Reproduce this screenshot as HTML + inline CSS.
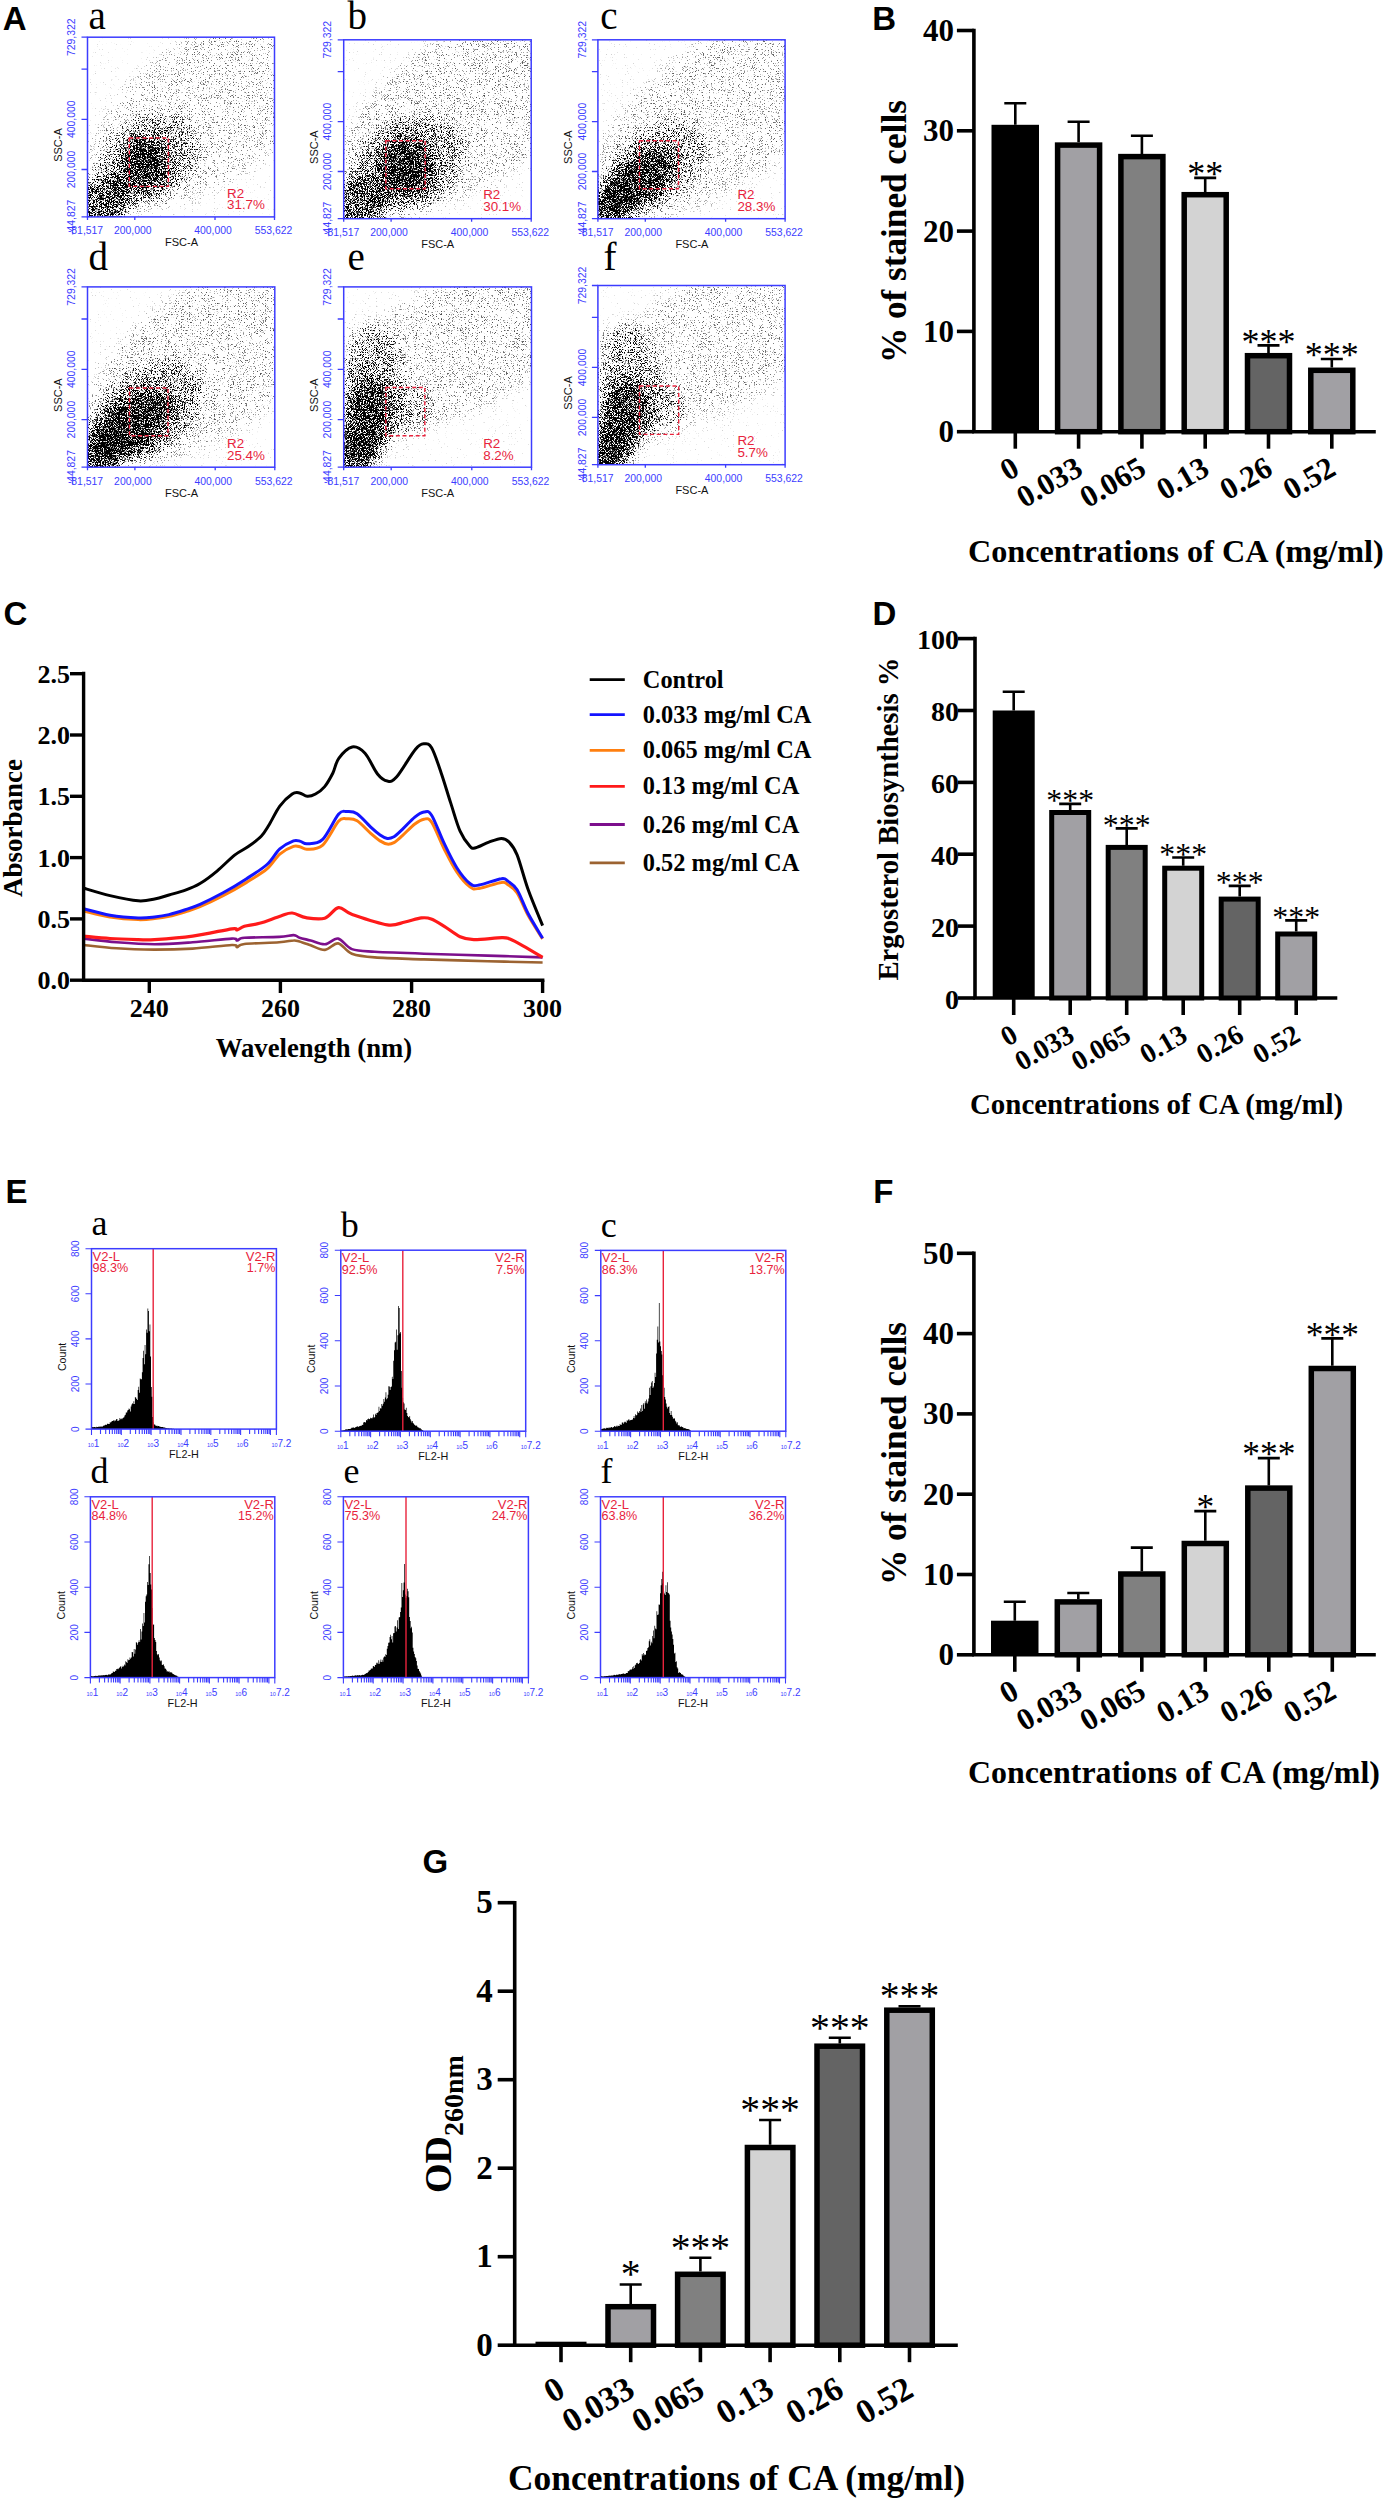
<!DOCTYPE html>
<html><head><meta charset="utf-8"><style>
html,body{margin:0;padding:0;background:#fff;}
svg{display:block}
.S{font-family:"Liberation Serif",serif}
.A{font-family:"Liberation Sans",sans-serif}
</style></head><body>
<svg width="1386" height="2500" viewBox="0 0 1386 2500">
<defs><filter id="spk" filterUnits="userSpaceOnUse" x="0" y="0" width="800" height="480" color-interpolation-filters="sRGB">
<feGaussianBlur in="SourceGraphic" stdDeviation="7" result="d"/>
<feTurbulence type="fractalNoise" baseFrequency="1.37" numOctaves="1" seed="11"/>
<feColorMatrix type="matrix" values="0 0 0 0 0 0 0 0 0 0 0 0 0 0 0 1 0 0 0 0"/>
<feComponentTransfer result="u"><feFuncA type="table" tableValues="0.000 0.000 0.000 0.000 0.003 0.014 0.047 0.110 0.208 0.332 0.491 0.672 0.803 0.889 0.951 0.984 0.997 0.999 1.000 1.000 1.000"/></feComponentTransfer>
<feComposite in="d" in2="u" operator="arithmetic" k1="0" k2="1" k3="-1" k4="0.45"/>
<feComponentTransfer><feFuncR type="linear" slope="0" intercept="0"/><feFuncG type="linear" slope="0" intercept="0"/><feFuncB type="linear" slope="0" intercept="0"/><feFuncA type="linear" slope="3.5" intercept="-1.575"/></feComponentTransfer>
</filter></defs>
<text class="A" x="872.2" y="30" font-size="33" font-weight="bold" text-anchor="start" fill="#000">B</text>
<path d="M1015.3 124.8V103.2M1004.3 103.2H1026.3" stroke="#000" stroke-width="2.6" fill="none"/>
<rect x="991.5" y="124.8" width="47.5" height="306.9" fill="#000"/>
<path d="M1078.6 142.3V121.8M1067.6 121.8H1089.6" stroke="#000" stroke-width="2.6" fill="none"/>
<rect x="1057.6" y="145.1" width="42" height="286.6" fill="#a1a0a4" stroke="#000" stroke-width="5.5"/>
<path d="M1141.9 153.9V135.8M1130.9 135.8H1152.9" stroke="#000" stroke-width="2.6" fill="none"/>
<rect x="1120.9" y="156.6" width="42" height="275.1" fill="#808080" stroke="#000" stroke-width="5.5"/>
<path d="M1205.2 192V177.9M1194.2 177.9H1216.2" stroke="#000" stroke-width="2.6" fill="none"/>
<rect x="1184.2" y="194.7" width="42" height="237" fill="#d3d3d3" stroke="#000" stroke-width="5.5"/>
<text class="S" x="1205.2" y="186.3" font-size="36" text-anchor="middle" fill="#000">**</text>
<path d="M1268.5 353V345.4M1257.5 345.4H1279.5" stroke="#000" stroke-width="2.6" fill="none"/>
<rect x="1247.5" y="355.7" width="42" height="76" fill="#646464" stroke="#000" stroke-width="5.5"/>
<text class="S" x="1268.5" y="353.8" font-size="36" text-anchor="middle" fill="#000">***</text>
<path d="M1331.8 367.5V359M1320.8 359H1342.8" stroke="#000" stroke-width="2.6" fill="none"/>
<rect x="1310.8" y="370.3" width="42" height="61.4" fill="#a1a0a4" stroke="#000" stroke-width="5.5"/>
<text class="S" x="1331.8" y="367.4" font-size="36" text-anchor="middle" fill="#000">***</text>
<path d="M973.9 30.5V431.7H1374" stroke="#000" stroke-width="3.6" fill="none" stroke-linecap="square"/>
<path d="M956.9 431.7H973.9" stroke="#000" stroke-width="3.6"/>
<text class="S" x="953.9" y="442.2" font-size="31" font-weight="bold" text-anchor="end" fill="#000">0</text>
<path d="M956.9 331.4H973.9" stroke="#000" stroke-width="3.6"/>
<text class="S" x="953.9" y="341.9" font-size="31" font-weight="bold" text-anchor="end" fill="#000">10</text>
<path d="M956.9 231.1H973.9" stroke="#000" stroke-width="3.6"/>
<text class="S" x="953.9" y="241.6" font-size="31" font-weight="bold" text-anchor="end" fill="#000">20</text>
<path d="M956.9 130.8H973.9" stroke="#000" stroke-width="3.6"/>
<text class="S" x="953.9" y="141.3" font-size="31" font-weight="bold" text-anchor="end" fill="#000">30</text>
<path d="M956.9 30.5H973.9" stroke="#000" stroke-width="3.6"/>
<text class="S" x="953.9" y="41" font-size="31" font-weight="bold" text-anchor="end" fill="#000">40</text>
<path d="M1015.3 431.7V448.7" stroke="#000" stroke-width="3.6"/>
<text class="S" x="1021.3" y="473.7" font-size="31" font-weight="bold" text-anchor="end" fill="#000" transform="rotate(-30 1021.3 473.7)">0</text>
<path d="M1078.6 431.7V448.7" stroke="#000" stroke-width="3.6"/>
<text class="S" x="1084.6" y="473.7" font-size="31" font-weight="bold" text-anchor="end" fill="#000" transform="rotate(-30 1084.6 473.7)">0.033</text>
<path d="M1141.9 431.7V448.7" stroke="#000" stroke-width="3.6"/>
<text class="S" x="1147.9" y="473.7" font-size="31" font-weight="bold" text-anchor="end" fill="#000" transform="rotate(-30 1147.9 473.7)">0.065</text>
<path d="M1205.2 431.7V448.7" stroke="#000" stroke-width="3.6"/>
<text class="S" x="1211.2" y="473.7" font-size="31" font-weight="bold" text-anchor="end" fill="#000" transform="rotate(-30 1211.2 473.7)">0.13</text>
<path d="M1268.5 431.7V448.7" stroke="#000" stroke-width="3.6"/>
<text class="S" x="1274.5" y="473.7" font-size="31" font-weight="bold" text-anchor="end" fill="#000" transform="rotate(-30 1274.5 473.7)">0.26</text>
<path d="M1331.8 431.7V448.7" stroke="#000" stroke-width="3.6"/>
<text class="S" x="1337.8" y="473.7" font-size="31" font-weight="bold" text-anchor="end" fill="#000" transform="rotate(-30 1337.8 473.7)">0.52</text>
<text class="S" x="906.4" y="231.6" font-size="35.2" font-weight="bold" text-anchor="middle" fill="#000" transform="rotate(-90 906.4 231.6)">% of stained cells</text>
<text class="S" x="968" y="561.7" font-size="32.2" font-weight="bold" text-anchor="start" fill="#000">Concentrations of CA (mg/ml)</text>
<text class="A" x="872.6" y="624.8" font-size="33" font-weight="bold" text-anchor="start" fill="#000">D</text>
<path d="M1013.7 710.5V691.8M1002.7 691.8H1024.7" stroke="#000" stroke-width="2.6" fill="none"/>
<rect x="992.7" y="710.5" width="42" height="287.5" fill="#000"/>
<path d="M1070.2 810V803.9M1059.2 803.9H1081.2" stroke="#000" stroke-width="2.6" fill="none"/>
<rect x="1051.7" y="812.5" width="37" height="185.5" fill="#a1a0a4" stroke="#000" stroke-width="5"/>
<text class="S" x="1070.2" y="811.1" font-size="31.8" text-anchor="middle" fill="#000">***</text>
<path d="M1126.7 844.9V828.4M1115.7 828.4H1137.7" stroke="#000" stroke-width="2.6" fill="none"/>
<rect x="1108.2" y="847.4" width="37" height="150.6" fill="#808080" stroke="#000" stroke-width="5"/>
<text class="S" x="1126.7" y="835.6" font-size="31.8" text-anchor="middle" fill="#000">***</text>
<path d="M1183.2 865.7V857.5M1172.2 857.5H1194.2" stroke="#000" stroke-width="2.6" fill="none"/>
<rect x="1164.7" y="868.2" width="37" height="129.8" fill="#d3d3d3" stroke="#000" stroke-width="5"/>
<text class="S" x="1183.2" y="864.7" font-size="31.8" text-anchor="middle" fill="#000">***</text>
<path d="M1239.7 896.6V885.9M1228.7 885.9H1250.7" stroke="#000" stroke-width="2.6" fill="none"/>
<rect x="1221.2" y="899.1" width="37" height="98.9" fill="#646464" stroke="#000" stroke-width="5"/>
<text class="S" x="1239.7" y="893.1" font-size="31.8" text-anchor="middle" fill="#000">***</text>
<path d="M1296.2 931.5V920.4M1285.2 920.4H1307.2" stroke="#000" stroke-width="2.6" fill="none"/>
<rect x="1277.7" y="934" width="37" height="64" fill="#a1a0a4" stroke="#000" stroke-width="5"/>
<text class="S" x="1296.2" y="927.6" font-size="31.8" text-anchor="middle" fill="#000">***</text>
<path d="M975 638.6V998H1335.5" stroke="#000" stroke-width="3.6" fill="none" stroke-linecap="square"/>
<path d="M958 998H975" stroke="#000" stroke-width="3.6"/>
<text class="S" x="959" y="1008.5" font-size="28" font-weight="bold" text-anchor="end" fill="#000">0</text>
<path d="M958 926.1H975" stroke="#000" stroke-width="3.6"/>
<text class="S" x="959" y="936.6" font-size="28" font-weight="bold" text-anchor="end" fill="#000">20</text>
<path d="M958 854.2H975" stroke="#000" stroke-width="3.6"/>
<text class="S" x="959" y="864.7" font-size="28" font-weight="bold" text-anchor="end" fill="#000">40</text>
<path d="M958 782.4H975" stroke="#000" stroke-width="3.6"/>
<text class="S" x="959" y="792.9" font-size="28" font-weight="bold" text-anchor="end" fill="#000">60</text>
<path d="M958 710.5H975" stroke="#000" stroke-width="3.6"/>
<text class="S" x="959" y="721" font-size="28" font-weight="bold" text-anchor="end" fill="#000">80</text>
<path d="M958 638.6H975" stroke="#000" stroke-width="3.6"/>
<text class="S" x="959" y="649.1" font-size="28" font-weight="bold" text-anchor="end" fill="#000">100</text>
<path d="M1013.7 998V1015" stroke="#000" stroke-width="3.6"/>
<text class="S" x="1019.7" y="1040" font-size="28" font-weight="bold" text-anchor="end" fill="#000" transform="rotate(-30 1019.7 1040)">0</text>
<path d="M1070.2 998V1015" stroke="#000" stroke-width="3.6"/>
<text class="S" x="1076.2" y="1040" font-size="28" font-weight="bold" text-anchor="end" fill="#000" transform="rotate(-30 1076.2 1040)">0.033</text>
<path d="M1126.7 998V1015" stroke="#000" stroke-width="3.6"/>
<text class="S" x="1132.7" y="1040" font-size="28" font-weight="bold" text-anchor="end" fill="#000" transform="rotate(-30 1132.7 1040)">0.065</text>
<path d="M1183.2 998V1015" stroke="#000" stroke-width="3.6"/>
<text class="S" x="1189.2" y="1040" font-size="28" font-weight="bold" text-anchor="end" fill="#000" transform="rotate(-30 1189.2 1040)">0.13</text>
<path d="M1239.7 998V1015" stroke="#000" stroke-width="3.6"/>
<text class="S" x="1245.7" y="1040" font-size="28" font-weight="bold" text-anchor="end" fill="#000" transform="rotate(-30 1245.7 1040)">0.26</text>
<path d="M1296.2 998V1015" stroke="#000" stroke-width="3.6"/>
<text class="S" x="1302.2" y="1040" font-size="28" font-weight="bold" text-anchor="end" fill="#000" transform="rotate(-30 1302.2 1040)">0.52</text>
<text class="S" x="898" y="819" font-size="28.7" font-weight="bold" text-anchor="middle" fill="#000" transform="rotate(-90 898 819)">Ergosterol Biosynthesis %</text>
<text class="S" x="970" y="1113.7" font-size="28.9" font-weight="bold" text-anchor="start" fill="#000">Concentrations of CA (mg/ml)</text>
<text class="A" x="873.2" y="1202.5" font-size="33" font-weight="bold" text-anchor="start" fill="#000">F</text>
<path d="M1014.8 1620.7V1601.8M1003.8 1601.8H1025.8" stroke="#000" stroke-width="2.6" fill="none"/>
<rect x="991" y="1620.7" width="47.5" height="34.1" fill="#000"/>
<path d="M1078.3 1599.2V1593M1067.3 1593H1089.3" stroke="#000" stroke-width="2.6" fill="none"/>
<rect x="1057.3" y="1601.9" width="42" height="52.9" fill="#a1a0a4" stroke="#000" stroke-width="5.5"/>
<path d="M1141.8 1571.3V1547.6M1130.8 1547.6H1152.8" stroke="#000" stroke-width="2.6" fill="none"/>
<rect x="1120.8" y="1574" width="42" height="80.8" fill="#808080" stroke="#000" stroke-width="5.5"/>
<path d="M1205.3 1540.8V1511.1M1194.3 1511.1H1216.3" stroke="#000" stroke-width="2.6" fill="none"/>
<rect x="1184.3" y="1543.5" width="42" height="111.3" fill="#d3d3d3" stroke="#000" stroke-width="5.5"/>
<text class="S" x="1205.3" y="1519.2" font-size="35.4" text-anchor="middle" fill="#000">*</text>
<path d="M1268.8 1485.4V1458.1M1257.8 1458.1H1279.8" stroke="#000" stroke-width="2.6" fill="none"/>
<rect x="1247.8" y="1488.1" width="42" height="166.7" fill="#646464" stroke="#000" stroke-width="5.5"/>
<text class="S" x="1268.8" y="1466.2" font-size="35.4" text-anchor="middle" fill="#000">***</text>
<path d="M1332.3 1365.7V1338.4M1321.3 1338.4H1343.3" stroke="#000" stroke-width="2.6" fill="none"/>
<rect x="1311.3" y="1368.5" width="42" height="286.3" fill="#a1a0a4" stroke="#000" stroke-width="5.5"/>
<text class="S" x="1332.3" y="1346.5" font-size="35.4" text-anchor="middle" fill="#000">***</text>
<path d="M973.9 1253.3V1654.8H1374" stroke="#000" stroke-width="3.6" fill="none" stroke-linecap="square"/>
<path d="M956.9 1654.8H973.9" stroke="#000" stroke-width="3.6"/>
<text class="S" x="953.9" y="1665.3" font-size="31" font-weight="bold" text-anchor="end" fill="#000">0</text>
<path d="M956.9 1574.5H973.9" stroke="#000" stroke-width="3.6"/>
<text class="S" x="953.9" y="1585" font-size="31" font-weight="bold" text-anchor="end" fill="#000">10</text>
<path d="M956.9 1494.2H973.9" stroke="#000" stroke-width="3.6"/>
<text class="S" x="953.9" y="1504.7" font-size="31" font-weight="bold" text-anchor="end" fill="#000">20</text>
<path d="M956.9 1413.9H973.9" stroke="#000" stroke-width="3.6"/>
<text class="S" x="953.9" y="1424.4" font-size="31" font-weight="bold" text-anchor="end" fill="#000">30</text>
<path d="M956.9 1333.6H973.9" stroke="#000" stroke-width="3.6"/>
<text class="S" x="953.9" y="1344.1" font-size="31" font-weight="bold" text-anchor="end" fill="#000">40</text>
<path d="M956.9 1253.3H973.9" stroke="#000" stroke-width="3.6"/>
<text class="S" x="953.9" y="1263.8" font-size="31" font-weight="bold" text-anchor="end" fill="#000">50</text>
<path d="M1014.8 1654.8V1671.8" stroke="#000" stroke-width="3.6"/>
<text class="S" x="1020.8" y="1696.8" font-size="31" font-weight="bold" text-anchor="end" fill="#000" transform="rotate(-30 1020.8 1696.8)">0</text>
<path d="M1078.3 1654.8V1671.8" stroke="#000" stroke-width="3.6"/>
<text class="S" x="1084.3" y="1696.8" font-size="31" font-weight="bold" text-anchor="end" fill="#000" transform="rotate(-30 1084.3 1696.8)">0.033</text>
<path d="M1141.8 1654.8V1671.8" stroke="#000" stroke-width="3.6"/>
<text class="S" x="1147.8" y="1696.8" font-size="31" font-weight="bold" text-anchor="end" fill="#000" transform="rotate(-30 1147.8 1696.8)">0.065</text>
<path d="M1205.3 1654.8V1671.8" stroke="#000" stroke-width="3.6"/>
<text class="S" x="1211.3" y="1696.8" font-size="31" font-weight="bold" text-anchor="end" fill="#000" transform="rotate(-30 1211.3 1696.8)">0.13</text>
<path d="M1268.8 1654.8V1671.8" stroke="#000" stroke-width="3.6"/>
<text class="S" x="1274.8" y="1696.8" font-size="31" font-weight="bold" text-anchor="end" fill="#000" transform="rotate(-30 1274.8 1696.8)">0.26</text>
<path d="M1332.3 1654.8V1671.8" stroke="#000" stroke-width="3.6"/>
<text class="S" x="1338.3" y="1696.8" font-size="31" font-weight="bold" text-anchor="end" fill="#000" transform="rotate(-30 1338.3 1696.8)">0.52</text>
<text class="S" x="906.4" y="1453.5" font-size="35.2" font-weight="bold" text-anchor="middle" fill="#000" transform="rotate(-90 906.4 1453.5)">% of stained cells</text>
<text class="S" x="968" y="1783" font-size="31.9" font-weight="bold" text-anchor="start" fill="#000">Concentrations of CA (mg/ml)</text>
<text class="A" x="422.5" y="1873" font-size="33" font-weight="bold" text-anchor="start" fill="#000">G</text>
<rect x="535.5" y="2341.7" width="51" height="3.5" fill="#000"/>
<path d="M630.7 2304V2284.5M619.7 2284.5H641.7" stroke="#000" stroke-width="2.6" fill="none"/>
<rect x="608" y="2306.7" width="45.5" height="38.5" fill="#a1a0a4" stroke="#000" stroke-width="5.5"/>
<text class="S" x="630.7" y="2287.3" font-size="39.7" text-anchor="middle" fill="#000">*</text>
<path d="M700.4 2271.6V2257.7M689.4 2257.7H711.4" stroke="#000" stroke-width="2.6" fill="none"/>
<rect x="677.6" y="2274.3" width="45.5" height="70.9" fill="#808080" stroke="#000" stroke-width="5.5"/>
<text class="S" x="700.4" y="2260.5" font-size="39.7" text-anchor="middle" fill="#000">***</text>
<path d="M770.1 2144.7V2120M759.1 2120H781.1" stroke="#000" stroke-width="2.6" fill="none"/>
<rect x="747.4" y="2147.5" width="45.5" height="197.7" fill="#d3d3d3" stroke="#000" stroke-width="5.5"/>
<text class="S" x="770.1" y="2122.8" font-size="39.7" text-anchor="middle" fill="#000">***</text>
<path d="M839.8 2043.4V2037.8M828.8 2037.8H850.8" stroke="#000" stroke-width="2.6" fill="none"/>
<rect x="817" y="2046.2" width="45.5" height="299" fill="#646464" stroke="#000" stroke-width="5.5"/>
<text class="S" x="839.8" y="2040.7" font-size="39.7" text-anchor="middle" fill="#000">***</text>
<path d="M909.5 2007.5V2006.2M898.5 2006.2H920.5" stroke="#000" stroke-width="2.6" fill="none"/>
<rect x="886.8" y="2010.2" width="45.5" height="335" fill="#a1a0a4" stroke="#000" stroke-width="5.5"/>
<text class="S" x="909.5" y="2009.1" font-size="39.7" text-anchor="middle" fill="#000">***</text>
<path d="M514.7 1902.7V2345.2H956" stroke="#000" stroke-width="3.6" fill="none" stroke-linecap="square"/>
<path d="M497.7 2345.2H514.7" stroke="#000" stroke-width="3.6"/>
<text class="S" x="492.7" y="2355.7" font-size="33" font-weight="bold" text-anchor="end" fill="#000">0</text>
<path d="M497.7 2256.7H514.7" stroke="#000" stroke-width="3.6"/>
<text class="S" x="492.7" y="2267.2" font-size="33" font-weight="bold" text-anchor="end" fill="#000">1</text>
<path d="M497.7 2168.2H514.7" stroke="#000" stroke-width="3.6"/>
<text class="S" x="492.7" y="2178.7" font-size="33" font-weight="bold" text-anchor="end" fill="#000">2</text>
<path d="M497.7 2079.7H514.7" stroke="#000" stroke-width="3.6"/>
<text class="S" x="492.7" y="2090.2" font-size="33" font-weight="bold" text-anchor="end" fill="#000">3</text>
<path d="M497.7 1991.2H514.7" stroke="#000" stroke-width="3.6"/>
<text class="S" x="492.7" y="2001.7" font-size="33" font-weight="bold" text-anchor="end" fill="#000">4</text>
<path d="M497.7 1902.7H514.7" stroke="#000" stroke-width="3.6"/>
<text class="S" x="492.7" y="1913.2" font-size="33" font-weight="bold" text-anchor="end" fill="#000">5</text>
<path d="M561 2345.2V2362.2" stroke="#000" stroke-width="3.6"/>
<text class="S" x="567" y="2395.2" font-size="34" font-weight="bold" text-anchor="end" fill="#000" transform="rotate(-30 567 2395.2)">0</text>
<path d="M630.7 2345.2V2362.2" stroke="#000" stroke-width="3.6"/>
<text class="S" x="636.7" y="2395.2" font-size="34" font-weight="bold" text-anchor="end" fill="#000" transform="rotate(-30 636.7 2395.2)">0.033</text>
<path d="M700.4 2345.2V2362.2" stroke="#000" stroke-width="3.6"/>
<text class="S" x="706.4" y="2395.2" font-size="34" font-weight="bold" text-anchor="end" fill="#000" transform="rotate(-30 706.4 2395.2)">0.065</text>
<path d="M770.1 2345.2V2362.2" stroke="#000" stroke-width="3.6"/>
<text class="S" x="776.1" y="2395.2" font-size="34" font-weight="bold" text-anchor="end" fill="#000" transform="rotate(-30 776.1 2395.2)">0.13</text>
<path d="M839.8 2345.2V2362.2" stroke="#000" stroke-width="3.6"/>
<text class="S" x="845.8" y="2395.2" font-size="34" font-weight="bold" text-anchor="end" fill="#000" transform="rotate(-30 845.8 2395.2)">0.26</text>
<path d="M909.5 2345.2V2362.2" stroke="#000" stroke-width="3.6"/>
<text class="S" x="915.5" y="2395.2" font-size="34" font-weight="bold" text-anchor="end" fill="#000" transform="rotate(-30 915.5 2395.2)">0.52</text>
<text class="S" x="451.4" y="2124" font-size="38" font-weight="bold" text-anchor="middle" fill="#000" transform="rotate(-90 451.4 2124)">OD<tspan font-size="28" dy="12">260nm</tspan></text>
<text class="S" x="508" y="2490" font-size="35.4" font-weight="bold" text-anchor="start" fill="#000">Concentrations of CA (mg/ml)</text>
<text class="A" x="3.6" y="624.5" font-size="33" font-weight="bold" text-anchor="start" fill="#000">C</text>
<path d="M83.8 945C89.3 945.6 104.8 947.6 116.6 948.3C128.4 949.1 141.9 949.5 154.6 949.6C167.3 949.6 179.7 949.3 192.6 948.6C205.5 947.8 224.5 945.3 231.9 945C239.4 944.8 235.1 947.3 237.2 947.1C239.3 946.9 237.4 944.8 244.4 944C251.4 943.2 270.9 942.9 279.1 942.3C287.3 941.7 290.2 940.6 293.6 940.5C296.9 940.3 296.6 940.7 299.5 941.5C302.3 942.3 306.3 943.8 310.6 945.3C314.9 946.7 320.4 950.2 325 949.9C329.6 949.6 333.7 942.8 338.1 943.4C342.6 944.1 345.8 951.4 351.9 953.7C358 956 362.8 956.5 374.8 957.4C386.9 958.3 405.2 958.7 424 959.4C442.8 960 467.8 960.7 487.6 961.2C507.4 961.7 533.5 962.3 542.6 962.5" stroke="#9c6331" stroke-width="2.6" fill="none" stroke-linejoin="round"/>
<path d="M83.8 938.6C89.3 939.2 104.8 941.3 116.6 942.2C128.4 943.1 141.9 944.1 154.6 944.2C167.3 944.2 179.7 943.2 192.6 942.3C205.5 941.4 224.5 938.9 231.9 938.6C239.4 938.3 235.1 940.6 237.2 940.5C239.3 940.3 237.4 938.4 244.4 937.8C251.4 937.2 270.9 937.4 279.1 936.9C287.3 936.5 290.2 935 293.6 935.1C296.9 935.2 296.6 936.8 299.5 937.7C302.3 938.6 306.3 939.4 310.6 940.5C314.9 941.6 320.4 944.6 325 944.3C329.6 944 333.7 937.8 338.1 938.6C342.6 939.4 345.8 946.9 351.9 949.1C358 951.2 362.8 951 374.8 951.8C386.9 952.5 405.2 953.1 424 953.7C442.8 954.4 467.8 954.9 487.6 955.6C507.4 956.2 533.5 957.1 542.6 957.4" stroke="#7c0f8c" stroke-width="2.6" fill="none" stroke-linejoin="round"/>
<path d="M83.8 936.1C88.2 936.5 101 937.9 110 938.5C119.1 939.1 130.8 939.4 138.2 939.6C145.6 939.8 145.5 940.2 154.6 939.6C163.7 939 179.7 937.9 192.6 936.1C205.5 934.3 224.5 929.9 231.9 928.8C239.4 927.8 235.1 930.4 237.2 929.9C239.3 929.5 240.7 927.4 244.4 926.3C248.1 925.2 253.4 925 259.5 923.3C265.5 921.6 275.3 917.7 280.8 916C286.2 914.2 288 912.7 292.2 913C296.5 913.3 300.6 916.8 306 917.7C311.4 918.5 319.3 919.8 324.7 918.2C330.1 916.5 333.9 908.3 338.5 907.6C343.1 907 344.1 911.5 352.2 914.4C360.4 917.2 378.5 923.5 387.3 924.8C396.1 926.1 399.3 923.1 405 922C410.7 920.8 417 918.4 421.4 917.9C425.8 917.4 427.4 917.5 431.2 918.9C435 920.3 439.5 923.3 444.3 926.3C449.1 929.2 455.1 934.4 460.1 936.7C465 938.9 466.8 939.5 473.8 939.6C480.8 939.8 496 937.7 502 937.7C508 937.6 506.4 937.8 509.9 939.1C513.4 940.5 517.5 942.8 523 945.9C528.4 948.9 539.4 955.5 542.6 957.4" stroke="#ff1a1a" stroke-width="3.2" fill="none" stroke-linejoin="round"/>
<path d="M83.8 911C88.2 912 101 915.6 110 917C119.1 918.4 130.8 919.3 138.2 919.6C145.6 919.8 149.5 919.2 154.6 918.6C159.7 918.1 163.9 917.6 169 916.4C174.1 915.3 180.2 913.4 185.4 911.8C190.6 910.1 193.7 909.3 200 906.7C206.3 904 215.4 899.7 223.1 895.7C230.8 891.7 238.8 887.1 246.2 882.6C253.5 878.1 261.4 873.6 267 868.9C272.6 864.1 275.4 857.8 279.8 854.1C284.2 850.4 290 847.6 293.5 846.4C296.9 845.3 298.2 846.6 300.5 847C302.8 847.5 303.7 849.5 307.3 849.2C311 849 317.2 850 322.4 845.4C327.6 840.7 334.5 825.8 338.5 821.3C342.6 816.9 343.6 818.9 346.7 818.8C349.8 818.7 353 818.2 357.1 820.7C361.3 823.3 367.7 830.9 371.6 834.2C375.4 837.6 377.5 839.2 380.1 840.9C382.7 842.5 385 843.8 387.3 844.1C389.6 844.4 391.3 844 393.9 842.6C396.4 841.2 398.9 838.7 402.4 835.6C405.9 832.5 411.2 826.7 414.8 824C418.4 821.3 421.2 819.5 424 819.2C426.8 818.9 428.2 817.1 431.6 822.1C435 827.1 440.1 840.9 444.3 849.2C448.5 857.5 452.5 865.6 456.8 871.9C461 878.2 466.2 884.1 469.9 886.9C473.6 889.6 473.8 889.2 479.1 888.4C484.3 887.7 496.5 883 501.4 882.4C506.2 881.7 505.3 882.9 507.9 884.7C510.5 886.4 513.7 887.8 517.1 892.9C520.5 898.1 524 907.9 528.2 915.6C532.5 923.3 540.2 935 542.6 938.9" stroke="#ff7f0f" stroke-width="3" fill="none" stroke-linejoin="round"/>
<path d="M83.8 908.8C88.2 909.9 101 913.7 110 915.2C119.1 916.7 130.8 917.6 138.2 917.9C145.6 918.2 149.5 917.5 154.6 916.9C159.7 916.4 163.9 915.8 169 914.6C174.1 913.4 180.2 911.4 185.4 909.7C190.6 908 193.7 907.1 200 904.3C206.3 901.5 215.4 897 223.1 892.8C230.8 888.6 238.8 883.7 246.2 878.9C253.5 874.2 261.4 869.5 267 864.5C272.6 859.5 275.4 852.8 279.8 848.9C284.2 845 290 842.1 293.5 840.8C296.9 839.6 298.2 840.9 300.5 841.4C302.8 841.9 303.7 844 307.3 843.7C311 843.5 317.2 844.6 322.4 839.7C327.6 834.8 334.5 819 338.5 814.3C342.6 809.6 343.6 811.7 346.7 811.6C349.8 811.5 353 811 357.1 813.7C361.3 816.4 367.7 824.4 371.6 827.9C375.4 831.5 377.5 833.2 380.1 834.9C382.7 836.7 385 838 387.3 838.4C389.6 838.7 391.3 838.2 393.9 836.8C396.4 835.3 398.9 832.7 402.4 829.4C405.9 826.1 411.2 820 414.8 817.1C418.4 814.3 421.2 812.4 424 812.1C426.8 811.8 428.2 809.9 431.6 815.2C435 820.5 440.1 835 444.3 843.7C448.5 852.5 452.5 861 456.8 867.7C461 874.3 466.2 880.6 469.9 883.5C473.6 886.4 473.8 885.9 479.1 885.1C484.3 884.3 496.5 879.3 501.4 878.7C506.2 878 505.3 879.3 507.9 881.1C510.5 883 513.7 884.4 517.1 889.8C520.5 895.3 524 905.7 528.2 913.8C532.5 921.8 540.2 934.2 542.6 938.3" stroke="#1414ff" stroke-width="3" fill="none" stroke-linejoin="round"/>
<path d="M83.8 888.2C88.2 889.5 101 893.5 110 895.6C119.1 897.7 130.8 900.2 138.2 900.8C145.6 901.3 149.5 900 154.6 899C159.7 898.1 163.9 896.5 169 895C174.1 893.5 180.2 892 185.4 890.1C190.6 888.2 194.7 886.7 200 883.5C205.3 880.3 211.6 875.6 217.3 870.8C223.1 866.1 229.4 859.2 234.6 855.1C239.7 851.1 243.9 849.7 248.3 846.6C252.8 843.4 257.7 839.9 261.2 836.3C264.7 832.6 266.2 829.5 269.3 824.5C272.4 819.5 276 811.2 279.8 806.1C283.6 801 289 796.2 292.2 794C295.5 791.8 296.9 792.5 299.5 792.9C302 793.3 304.6 796.1 307.3 796.3C310 796.5 312.6 795.6 315.5 794C318.4 792.4 321.8 790.1 324.7 786.6C327.6 783.1 330.5 777.7 332.9 773C335.2 768.3 335.6 762.6 338.8 758.3C342 754 347.9 747.9 352.2 747C356.6 746.2 360.8 748.8 365 753.3C369.2 757.8 373.7 769.3 377.5 774C381.2 778.6 384.1 780.6 387.3 781.1C390.5 781.6 391.8 782.3 396.5 777.1C401.2 771.8 410.8 754.9 415.5 749.3C420.1 743.8 421.7 744.1 424.4 743.8C427.1 743.6 428.8 743 431.6 747.8C434.4 752.5 437.9 763.3 441 772.4C444.2 781.5 447.4 792.8 450.6 802.6C453.8 812.3 456.8 823.8 460.1 831.1C463.3 838.4 467.3 843.4 469.9 846.2C472.5 849 472.6 848.5 475.8 847.8C479 847.1 484.6 843.7 488.9 842.2C493.2 840.6 498 838.4 501.4 838.4C504.7 838.4 506.6 839.4 509.2 842.2C511.8 844.9 513.9 847 517.1 854.9C520.3 862.9 524 878.1 528.2 889.8C532.5 901.6 540.2 919.7 542.6 925.6" stroke="#000" stroke-width="3" fill="none" stroke-linejoin="round"/>
<path d="M83.6 673.5V980.2H542.7" stroke="#000" stroke-width="3.4" fill="none" stroke-linecap="square"/>
<path d="M70 980.2H83.6" stroke="#000" stroke-width="3.4"/>
<text class="S" x="70" y="989.2" font-size="26" font-weight="bold" text-anchor="end" fill="#000">0.0</text>
<path d="M70 918.9H83.6" stroke="#000" stroke-width="3.4"/>
<text class="S" x="70" y="927.9" font-size="26" font-weight="bold" text-anchor="end" fill="#000">0.5</text>
<path d="M70 857.6H83.6" stroke="#000" stroke-width="3.4"/>
<text class="S" x="70" y="866.6" font-size="26" font-weight="bold" text-anchor="end" fill="#000">1.0</text>
<path d="M70 796.3H83.6" stroke="#000" stroke-width="3.4"/>
<text class="S" x="70" y="805.3" font-size="26" font-weight="bold" text-anchor="end" fill="#000">1.5</text>
<path d="M70 735H83.6" stroke="#000" stroke-width="3.4"/>
<text class="S" x="70" y="744" font-size="26" font-weight="bold" text-anchor="end" fill="#000">2.0</text>
<path d="M70 673.7H83.6" stroke="#000" stroke-width="3.4"/>
<text class="S" x="70" y="682.7" font-size="26" font-weight="bold" text-anchor="end" fill="#000">2.5</text>
<path d="M149.3 980.2V993" stroke="#000" stroke-width="3.4"/>
<text class="S" x="149.3" y="1017" font-size="26" font-weight="bold" text-anchor="middle" fill="#000">240</text>
<path d="M280.4 980.2V993" stroke="#000" stroke-width="3.4"/>
<text class="S" x="280.4" y="1017" font-size="26" font-weight="bold" text-anchor="middle" fill="#000">260</text>
<path d="M411.6 980.2V993" stroke="#000" stroke-width="3.4"/>
<text class="S" x="411.6" y="1017" font-size="26" font-weight="bold" text-anchor="middle" fill="#000">280</text>
<path d="M542.6 980.2V993" stroke="#000" stroke-width="3.4"/>
<text class="S" x="542.6" y="1017" font-size="26" font-weight="bold" text-anchor="middle" fill="#000">300</text>
<text class="S" x="314" y="1057" font-size="26.7" font-weight="bold" text-anchor="middle" fill="#000">Wavelength (nm)</text>
<text class="S" x="21.5" y="828" font-size="27" font-weight="bold" text-anchor="middle" fill="#000" transform="rotate(-90 21.5 828)">Absorbance</text>
<path d="M589.7 679.6H624.8" stroke="#000" stroke-width="2.8"/>
<text class="S" x="642.8" y="687.6" font-size="24.4" font-weight="bold" text-anchor="start" fill="#000">Control</text>
<path d="M589.7 714.7H624.8" stroke="#1414ff" stroke-width="2.8"/>
<text class="S" x="642.8" y="722.7" font-size="24.4" font-weight="bold" text-anchor="start" fill="#000">0.033 mg/ml CA</text>
<path d="M589.7 750.4H624.8" stroke="#ff7f0f" stroke-width="2.8"/>
<text class="S" x="642.8" y="758.4" font-size="24.4" font-weight="bold" text-anchor="start" fill="#000">0.065 mg/ml CA</text>
<path d="M589.7 786.4H624.8" stroke="#ff1a1a" stroke-width="2.8"/>
<text class="S" x="642.8" y="794.4" font-size="24.4" font-weight="bold" text-anchor="start" fill="#000">0.13 mg/ml CA</text>
<path d="M589.7 824.5H624.8" stroke="#7c0f8c" stroke-width="2.8"/>
<text class="S" x="642.8" y="832.5" font-size="24.4" font-weight="bold" text-anchor="start" fill="#000">0.26 mg/ml CA</text>
<path d="M589.7 862.9H624.8" stroke="#9c6331" stroke-width="2.8"/>
<text class="S" x="642.8" y="870.9" font-size="24.4" font-weight="bold" text-anchor="start" fill="#000">0.52 mg/ml CA</text>
<text class="A" x="2.7" y="30.3" font-size="33" font-weight="bold" text-anchor="start" fill="#000">A</text>
<clipPath id="sc0"><rect x="87.5" y="37.2" width="187" height="179.7"/></clipPath>
<g clip-path="url(#sc0)"><g filter="url(#spk)">
<rect x="77.5" y="27.2" width="207" height="199.7" fill-opacity="0.05"/>
<ellipse cx="209.5" cy="109.2" rx="140" ry="72" fill-opacity="0.16" transform="rotate(-35 209.5 109.2)"/>
<ellipse cx="149.5" cy="159.2" rx="52" ry="40" fill-opacity="0.3" transform="rotate(-30 149.5 159.2)"/>
<ellipse cx="145.5" cy="164.2" rx="23" ry="27" fill-opacity="0.8" transform="rotate(0 145.5 164.2)"/>
<ellipse cx="99.5" cy="205.2" rx="36" ry="26" fill-opacity="0.64" transform="rotate(-40 99.5 205.2)"/>
</g></g>
<rect x="129.3" y="138" width="39.1" height="48.4" fill="none" stroke="#e8233c" stroke-width="1.4" stroke-dasharray="4 2.6"/>
<rect x="87.5" y="37.2" width="187" height="179.7" fill="none" stroke="#3c3cff" stroke-width="1.5"/>
<path d="M81.5 69.2H87.5M81.5 119.3H87.5M81.5 169.5H87.5M81.5 216.9H87.5M81.5 37.2H87.5M87.5 216.9V219.9M134.8 216.9V219.9M215 216.9V219.9M274.5 216.9V219.9" stroke="#3c3cff" stroke-width="1.3"/>
<text class="A" x="71.5" y="37.2" font-size="10.4" fill="#3c3cff" text-anchor="middle" transform="rotate(-90 71.5 37.2)" dy="0.35em">729,322</text>
<text class="A" x="71.5" y="119.3" font-size="10.4" fill="#3c3cff" text-anchor="middle" transform="rotate(-90 71.5 119.3)" dy="0.35em">400,000</text>
<text class="A" x="71.5" y="169.5" font-size="10.4" fill="#3c3cff" text-anchor="middle" transform="rotate(-90 71.5 169.5)" dy="0.35em">200,000</text>
<text class="A" x="71.5" y="217.4" font-size="10.4" fill="#3c3cff" text-anchor="middle" transform="rotate(-90 71.5 217.4)" dy="0.35em">-44,827</text>
<text class="A" x="85.5" y="234.4" font-size="10.4" fill="#3c3cff" text-anchor="middle">-81,517</text>
<text class="A" x="132.8" y="234.4" font-size="10.4" fill="#3c3cff" text-anchor="middle">200,000</text>
<text class="A" x="213" y="234.4" font-size="10.4" fill="#3c3cff" text-anchor="middle">400,000</text>
<text class="A" x="273.5" y="234.4" font-size="10.4" fill="#3c3cff" text-anchor="middle">553,622</text>
<text class="A" x="181.5" y="246.4" font-size="11" fill="#111" text-anchor="middle">FSC-A</text>
<text class="A" x="58" y="145" font-size="11" fill="#111" text-anchor="middle" transform="rotate(-90 58 145)" dy="0.35em">SSC-A</text>
<text class="A" x="227" y="197.6" font-size="13.4" fill="#e8233c">R2</text>
<text class="A" x="227" y="209.3" font-size="13.4" fill="#e8233c">31.7%</text>
<text class="S" x="88.5" y="28.8" font-size="39" fill="#000">a</text>
<clipPath id="sc1"><rect x="343.7" y="39.8" width="187.5" height="178.9"/></clipPath>
<g clip-path="url(#sc1)"><g filter="url(#spk)">
<rect x="333.7" y="29.8" width="207.5" height="198.9" fill-opacity="0.05"/>
<ellipse cx="465.7" cy="111.8" rx="145" ry="76" fill-opacity="0.17" transform="rotate(-33 465.7 111.8)"/>
<ellipse cx="407.7" cy="163.8" rx="58" ry="44" fill-opacity="0.32" transform="rotate(-30 407.7 163.8)"/>
<ellipse cx="405.7" cy="167.8" rx="27" ry="29" fill-opacity="0.82" transform="rotate(0 405.7 167.8)"/>
<ellipse cx="355.7" cy="207.8" rx="36" ry="26" fill-opacity="0.64" transform="rotate(-40 355.7 207.8)"/>
</g></g>
<rect x="385.8" y="140.8" width="39.4" height="47.9" fill="none" stroke="#e8233c" stroke-width="1.4" stroke-dasharray="4 2.6"/>
<rect x="343.7" y="39.8" width="187.5" height="178.9" fill="none" stroke="#3c3cff" stroke-width="1.5"/>
<path d="M337.7 71.6H343.7M337.7 121.6H343.7M337.7 171.5H343.7M337.7 218.7H343.7M337.7 39.8H343.7M343.7 218.7V221.7M391.1 218.7V221.7M471.6 218.7V221.7M531.2 218.7V221.7" stroke="#3c3cff" stroke-width="1.3"/>
<text class="A" x="327.7" y="39.8" font-size="10.4" fill="#3c3cff" text-anchor="middle" transform="rotate(-90 327.7 39.8)" dy="0.35em">729,322</text>
<text class="A" x="327.7" y="121.6" font-size="10.4" fill="#3c3cff" text-anchor="middle" transform="rotate(-90 327.7 121.6)" dy="0.35em">400,000</text>
<text class="A" x="327.7" y="171.5" font-size="10.4" fill="#3c3cff" text-anchor="middle" transform="rotate(-90 327.7 171.5)" dy="0.35em">200,000</text>
<text class="A" x="327.7" y="219.2" font-size="10.4" fill="#3c3cff" text-anchor="middle" transform="rotate(-90 327.7 219.2)" dy="0.35em">-44,827</text>
<text class="A" x="341.7" y="236.2" font-size="10.4" fill="#3c3cff" text-anchor="middle">-81,517</text>
<text class="A" x="389.1" y="236.2" font-size="10.4" fill="#3c3cff" text-anchor="middle">200,000</text>
<text class="A" x="469.6" y="236.2" font-size="10.4" fill="#3c3cff" text-anchor="middle">400,000</text>
<text class="A" x="530.2" y="236.2" font-size="10.4" fill="#3c3cff" text-anchor="middle">553,622</text>
<text class="A" x="437.7" y="248.2" font-size="11" fill="#111" text-anchor="middle">FSC-A</text>
<text class="A" x="314.2" y="147.1" font-size="11" fill="#111" text-anchor="middle" transform="rotate(-90 314.2 147.1)" dy="0.35em">SSC-A</text>
<text class="A" x="483.2" y="199.4" font-size="13.4" fill="#e8233c">R2</text>
<text class="A" x="483.2" y="211.1" font-size="13.4" fill="#e8233c">30.1%</text>
<text class="S" x="347.6" y="28.8" font-size="39" fill="#000">b</text>
<clipPath id="sc2"><rect x="597.9" y="39.8" width="187.2" height="178.9"/></clipPath>
<g clip-path="url(#sc2)"><g filter="url(#spk)">
<rect x="587.9" y="29.8" width="207.2" height="198.9" fill-opacity="0.05"/>
<ellipse cx="719.9" cy="115.8" rx="145" ry="72" fill-opacity="0.16" transform="rotate(-35 719.9 115.8)"/>
<ellipse cx="655.9" cy="165.8" rx="56" ry="36" fill-opacity="0.28" transform="rotate(-38 655.9 165.8)"/>
<ellipse cx="637.9" cy="181.8" rx="46" ry="23" fill-opacity="0.76" transform="rotate(-38 637.9 181.8)"/>
<ellipse cx="607.9" cy="209.8" rx="32" ry="22" fill-opacity="0.66" transform="rotate(-40 607.9 209.8)"/>
</g></g>
<rect x="639.5" y="140.8" width="39" height="47.9" fill="none" stroke="#e8233c" stroke-width="1.4" stroke-dasharray="4 2.6"/>
<rect x="597.9" y="39.8" width="187.2" height="178.9" fill="none" stroke="#3c3cff" stroke-width="1.5"/>
<path d="M591.9 71.6H597.9M591.9 121.6H597.9M591.9 171.5H597.9M591.9 218.7H597.9M591.9 39.8H597.9M597.9 218.7V221.7M645.3 218.7V221.7M725.6 218.7V221.7M785.1 218.7V221.7" stroke="#3c3cff" stroke-width="1.3"/>
<text class="A" x="581.9" y="39.8" font-size="10.4" fill="#3c3cff" text-anchor="middle" transform="rotate(-90 581.9 39.8)" dy="0.35em">729,322</text>
<text class="A" x="581.9" y="121.6" font-size="10.4" fill="#3c3cff" text-anchor="middle" transform="rotate(-90 581.9 121.6)" dy="0.35em">400,000</text>
<text class="A" x="581.9" y="171.5" font-size="10.4" fill="#3c3cff" text-anchor="middle" transform="rotate(-90 581.9 171.5)" dy="0.35em">200,000</text>
<text class="A" x="581.9" y="219.2" font-size="10.4" fill="#3c3cff" text-anchor="middle" transform="rotate(-90 581.9 219.2)" dy="0.35em">-44,827</text>
<text class="A" x="595.9" y="236.2" font-size="10.4" fill="#3c3cff" text-anchor="middle">-81,517</text>
<text class="A" x="643.3" y="236.2" font-size="10.4" fill="#3c3cff" text-anchor="middle">200,000</text>
<text class="A" x="723.6" y="236.2" font-size="10.4" fill="#3c3cff" text-anchor="middle">400,000</text>
<text class="A" x="784.1" y="236.2" font-size="10.4" fill="#3c3cff" text-anchor="middle">553,622</text>
<text class="A" x="691.9" y="248.2" font-size="11" fill="#111" text-anchor="middle">FSC-A</text>
<text class="A" x="568.4" y="147.1" font-size="11" fill="#111" text-anchor="middle" transform="rotate(-90 568.4 147.1)" dy="0.35em">SSC-A</text>
<text class="A" x="737.4" y="199.4" font-size="13.4" fill="#e8233c">R2</text>
<text class="A" x="737.4" y="211.1" font-size="13.4" fill="#e8233c">28.3%</text>
<text class="S" x="600.3" y="28.8" font-size="39" fill="#000">c</text>
<clipPath id="sc3"><rect x="87.5" y="286.9" width="187.3" height="180.3"/></clipPath>
<g clip-path="url(#sc3)"><g filter="url(#spk)">
<rect x="77.5" y="276.9" width="207.3" height="200.3" fill-opacity="0.05"/>
<ellipse cx="209.5" cy="360.9" rx="145" ry="74" fill-opacity="0.17" transform="rotate(-35 209.5 360.9)"/>
<ellipse cx="147.5" cy="410.9" rx="60" ry="40" fill-opacity="0.32" transform="rotate(-38 147.5 410.9)"/>
<ellipse cx="129.5" cy="426.9" rx="50" ry="26" fill-opacity="0.78" transform="rotate(-38 129.5 426.9)"/>
<ellipse cx="97.5" cy="456.9" rx="32" ry="22" fill-opacity="0.66" transform="rotate(-40 97.5 456.9)"/>
</g></g>
<rect x="129.5" y="388" width="38.5" height="47.8" fill="none" stroke="#e8233c" stroke-width="1.4" stroke-dasharray="4 2.6"/>
<rect x="87.5" y="286.9" width="187.3" height="180.3" fill="none" stroke="#3c3cff" stroke-width="1.5"/>
<path d="M81.5 319H87.5M81.5 369.3H87.5M81.5 419.6H87.5M81.5 467.2H87.5M81.5 286.9H87.5M87.5 467.2V470.2M134.9 467.2V470.2M215.2 467.2V470.2M274.8 467.2V470.2" stroke="#3c3cff" stroke-width="1.3"/>
<text class="A" x="71.5" y="286.9" font-size="10.4" fill="#3c3cff" text-anchor="middle" transform="rotate(-90 71.5 286.9)" dy="0.35em">729,322</text>
<text class="A" x="71.5" y="369.3" font-size="10.4" fill="#3c3cff" text-anchor="middle" transform="rotate(-90 71.5 369.3)" dy="0.35em">400,000</text>
<text class="A" x="71.5" y="419.6" font-size="10.4" fill="#3c3cff" text-anchor="middle" transform="rotate(-90 71.5 419.6)" dy="0.35em">200,000</text>
<text class="A" x="71.5" y="467.7" font-size="10.4" fill="#3c3cff" text-anchor="middle" transform="rotate(-90 71.5 467.7)" dy="0.35em">-44,827</text>
<text class="A" x="85.5" y="484.7" font-size="10.4" fill="#3c3cff" text-anchor="middle">-81,517</text>
<text class="A" x="132.9" y="484.7" font-size="10.4" fill="#3c3cff" text-anchor="middle">200,000</text>
<text class="A" x="213.2" y="484.7" font-size="10.4" fill="#3c3cff" text-anchor="middle">400,000</text>
<text class="A" x="273.8" y="484.7" font-size="10.4" fill="#3c3cff" text-anchor="middle">553,622</text>
<text class="A" x="181.5" y="496.7" font-size="11" fill="#111" text-anchor="middle">FSC-A</text>
<text class="A" x="58" y="395.1" font-size="11" fill="#111" text-anchor="middle" transform="rotate(-90 58 395.1)" dy="0.35em">SSC-A</text>
<text class="A" x="227" y="447.9" font-size="13.4" fill="#e8233c">R2</text>
<text class="A" x="227" y="459.6" font-size="13.4" fill="#e8233c">25.4%</text>
<text class="S" x="88.5" y="270" font-size="39" fill="#000">d</text>
<clipPath id="sc4"><rect x="343.7" y="286.9" width="187.8" height="180.3"/></clipPath>
<g clip-path="url(#sc4)"><g filter="url(#spk)">
<rect x="333.7" y="276.9" width="207.8" height="200.3" fill-opacity="0.05"/>
<ellipse cx="455.7" cy="348.9" rx="125" ry="66" fill-opacity="0.17" transform="rotate(-25 455.7 348.9)"/>
<ellipse cx="373.7" cy="378.9" rx="30" ry="58" fill-opacity="0.28" transform="rotate(-8 373.7 378.9)"/>
<ellipse cx="388.7" cy="416.9" rx="45" ry="28" fill-opacity="0.2" transform="rotate(-20 388.7 416.9)"/>
<ellipse cx="365.7" cy="422.9" rx="48" ry="24" fill-opacity="0.68" transform="rotate(-82 365.7 422.9)"/>
<ellipse cx="355.7" cy="451.9" rx="26" ry="20" fill-opacity="0.62" transform="rotate(-60 355.7 451.9)"/>
</g></g>
<rect x="385.8" y="387.5" width="39" height="48.3" fill="none" stroke="#e8233c" stroke-width="1.4" stroke-dasharray="4 2.6"/>
<rect x="343.7" y="286.9" width="187.8" height="180.3" fill="none" stroke="#3c3cff" stroke-width="1.5"/>
<path d="M337.7 319H343.7M337.7 369.3H343.7M337.7 419.6H343.7M337.7 467.2H343.7M337.7 286.9H343.7M343.7 467.2V470.2M391.2 467.2V470.2M471.8 467.2V470.2M531.5 467.2V470.2" stroke="#3c3cff" stroke-width="1.3"/>
<text class="A" x="327.7" y="286.9" font-size="10.4" fill="#3c3cff" text-anchor="middle" transform="rotate(-90 327.7 286.9)" dy="0.35em">729,322</text>
<text class="A" x="327.7" y="369.3" font-size="10.4" fill="#3c3cff" text-anchor="middle" transform="rotate(-90 327.7 369.3)" dy="0.35em">400,000</text>
<text class="A" x="327.7" y="419.6" font-size="10.4" fill="#3c3cff" text-anchor="middle" transform="rotate(-90 327.7 419.6)" dy="0.35em">200,000</text>
<text class="A" x="327.7" y="467.7" font-size="10.4" fill="#3c3cff" text-anchor="middle" transform="rotate(-90 327.7 467.7)" dy="0.35em">-44,827</text>
<text class="A" x="341.7" y="484.7" font-size="10.4" fill="#3c3cff" text-anchor="middle">-81,517</text>
<text class="A" x="389.2" y="484.7" font-size="10.4" fill="#3c3cff" text-anchor="middle">200,000</text>
<text class="A" x="469.8" y="484.7" font-size="10.4" fill="#3c3cff" text-anchor="middle">400,000</text>
<text class="A" x="530.5" y="484.7" font-size="10.4" fill="#3c3cff" text-anchor="middle">553,622</text>
<text class="A" x="437.7" y="496.7" font-size="11" fill="#111" text-anchor="middle">FSC-A</text>
<text class="A" x="314.2" y="395.1" font-size="11" fill="#111" text-anchor="middle" transform="rotate(-90 314.2 395.1)" dy="0.35em">SSC-A</text>
<text class="A" x="483.2" y="447.9" font-size="13.4" fill="#e8233c">R2</text>
<text class="A" x="483.2" y="459.6" font-size="13.4" fill="#e8233c">8.2%</text>
<text class="S" x="347.6" y="270" font-size="39" fill="#000">e</text>
<clipPath id="sc5"><rect x="597.9" y="285.5" width="187.2" height="179.2"/></clipPath>
<g clip-path="url(#sc5)"><g filter="url(#spk)">
<rect x="587.9" y="275.5" width="207.2" height="199.2" fill-opacity="0.05"/>
<ellipse cx="709.9" cy="347.5" rx="125" ry="66" fill-opacity="0.16" transform="rotate(-25 709.9 347.5)"/>
<ellipse cx="629.9" cy="377.5" rx="30" ry="56" fill-opacity="0.28" transform="rotate(-12 629.9 377.5)"/>
<ellipse cx="642.9" cy="415.5" rx="45" ry="28" fill-opacity="0.2" transform="rotate(-20 642.9 415.5)"/>
<ellipse cx="619.9" cy="423.5" rx="46" ry="24" fill-opacity="0.68" transform="rotate(-76 619.9 423.5)"/>
<ellipse cx="609.9" cy="450.5" rx="26" ry="20" fill-opacity="0.62" transform="rotate(-60 609.9 450.5)"/>
</g></g>
<rect x="639.5" y="386" width="39.2" height="48.4" fill="none" stroke="#e8233c" stroke-width="1.4" stroke-dasharray="4 2.6"/>
<rect x="597.9" y="285.5" width="187.2" height="179.2" fill="none" stroke="#3c3cff" stroke-width="1.5"/>
<path d="M591.9 317.4H597.9M591.9 367.4H597.9M591.9 417.4H597.9M591.9 464.7H597.9M591.9 285.5H597.9M597.9 464.7V467.7M645.3 464.7V467.7M725.6 464.7V467.7M785.1 464.7V467.7" stroke="#3c3cff" stroke-width="1.3"/>
<text class="A" x="581.9" y="285.5" font-size="10.4" fill="#3c3cff" text-anchor="middle" transform="rotate(-90 581.9 285.5)" dy="0.35em">729,322</text>
<text class="A" x="581.9" y="367.4" font-size="10.4" fill="#3c3cff" text-anchor="middle" transform="rotate(-90 581.9 367.4)" dy="0.35em">400,000</text>
<text class="A" x="581.9" y="417.4" font-size="10.4" fill="#3c3cff" text-anchor="middle" transform="rotate(-90 581.9 417.4)" dy="0.35em">200,000</text>
<text class="A" x="581.9" y="465.2" font-size="10.4" fill="#3c3cff" text-anchor="middle" transform="rotate(-90 581.9 465.2)" dy="0.35em">-44,827</text>
<text class="A" x="595.9" y="482.2" font-size="10.4" fill="#3c3cff" text-anchor="middle">-81,517</text>
<text class="A" x="643.3" y="482.2" font-size="10.4" fill="#3c3cff" text-anchor="middle">200,000</text>
<text class="A" x="723.6" y="482.2" font-size="10.4" fill="#3c3cff" text-anchor="middle">400,000</text>
<text class="A" x="784.1" y="482.2" font-size="10.4" fill="#3c3cff" text-anchor="middle">553,622</text>
<text class="A" x="691.9" y="494.2" font-size="11" fill="#111" text-anchor="middle">FSC-A</text>
<text class="A" x="568.4" y="393" font-size="11" fill="#111" text-anchor="middle" transform="rotate(-90 568.4 393)" dy="0.35em">SSC-A</text>
<text class="A" x="737.4" y="445.4" font-size="13.4" fill="#e8233c">R2</text>
<text class="A" x="737.4" y="457.1" font-size="13.4" fill="#e8233c">5.7%</text>
<text class="S" x="603.5" y="270" font-size="39" fill="#000">f</text>
<text class="A" x="5.4" y="1202.5" font-size="33" font-weight="bold" text-anchor="start" fill="#000">E</text>
<path d="M91.5 1429.1V1427.3H92.2V1427.1H92.9V1427.2H93.6V1427.0H94.3V1426.9H95.0V1427.3H95.7V1427.3H96.4V1426.7H97.1V1427.1H97.8V1427.0H98.5V1426.5H99.2V1426.8H99.9V1426.5H100.6V1426.7H101.3V1426.6H102.0V1426.7H102.7V1426.0H103.4V1425.4H104.1V1425.5H104.8V1424.9H105.5V1424.6H106.2V1425.1H106.9V1423.8H107.6V1423.7H108.3V1423.9H109.0V1424.1H109.7V1422.2H110.4V1422.6H111.1V1421.8H111.8V1421.1H112.5V1421.1H113.2V1420.3H113.9V1421.3H114.6V1420.1H115.3V1420.8H116.0V1419.2H116.7V1419.1H117.4V1421.1H118.1V1420.8H118.8V1420.3H119.5V1417.9H120.2V1419.2H120.9V1418.4H121.6V1419.2H122.3V1418.2H123.0V1417.8H123.7V1417.2H124.4V1415.5H125.1V1414.7H125.8V1412.4H126.5V1412.6H127.2V1410.5H127.9V1410.0H128.6V1408.4H129.3V1409.3H130.0V1411.5H130.7V1406.4H131.4V1404.6H132.1V1403.3H132.8V1404.1H133.5V1401.3H134.2V1404.0H134.9V1397.0H135.6V1397.7H136.3V1399.0H137.0V1399.9H137.7V1389.9H138.4V1386.7H139.1V1392.8H139.8V1378.4H140.5V1379.3H141.2V1379.2H141.9V1372.2H142.6V1358.1H143.3V1350.7H144.0V1364.3H144.7V1345.0H145.4V1354.2H146.1V1329.5H146.8V1332.8H147.5V1308.5H148.2V1311.0H148.9V1331.2H149.6V1324.5H150.3V1356.5H151.0V1386.9H151.7V1396.8H152.4V1417.0H153.1V1422.2H153.8V1424.5H154.5V1424.6H155.2V1425.5H155.9V1425.9H156.6V1425.4H157.3V1426.3H158.0V1425.9H158.7V1426.1H159.4V1426.7H160.1V1426.8H160.8V1426.9H161.5V1427.0H162.2V1427.1H162.9V1427.3H163.6V1427.4H164.3V1427.5H165.0V1427.8H165.7V1428.0H166.4V1428.0H167.1V1428.3H167.8V1428.3H168.5V1428.2H169.2V1428.4H169.9V1428.5H170.6V1428.6H171.3V1428.6H172.0V1428.7H172.7V1428.8H173.4V1428.8H174.1V1428.9H174.8V1429.0H175.5V1429.0H176.2V1429.1H176.9V1429.1H177.6V1429.1H178.3V1429.1H179.0V1429.1H179.7V1429.1H180.4V1429.1H181.1V1429.1H181.8V1429.1H182.5V1429.1H183.2V1429.1H183.9V1429.1H184.6V1429.1H185.3V1429.1H186.0V1429.1H186.7V1429.1H187.4V1429.1H188.1V1429.1H188.8V1429.1H189.5V1429.1H190.2V1429.1H190.9V1429.1H191.6V1429.1H192.3V1429.1H193.0V1429.1H193.7V1429.1H194.4V1429.1H195.1V1429.1H195.8V1429.1H196.5V1429.1H197.2V1429.1H197.9V1429.1H198.6V1429.1H199.3V1429.1H200.0V1429.1H200.7V1429.1H201.4V1429.1H202.1V1429.1H202.8V1429.1H203.5V1429.1H204.2V1429.1H204.9V1429.1H205.6V1429.1H206.3V1429.1H207.0V1429.1H207.7V1429.1H208.4V1429.1H209.1V1429.1H209.8V1429.1H210.5V1429.1H211.2V1429.1H211.9V1429.1H212.6V1429.1H213.3V1429.1H214.0V1429.1H214.7V1429.1H215.4V1429.1H216.1V1429.1H216.8V1429.1H217.5V1429.1H218.2V1429.1H218.9V1429.1H219.6V1429.1H220.3V1429.1H221.0V1429.1H221.7V1429.1H222.4V1429.1H223.1V1429.1H223.8V1429.1H224.5V1429.1H225.2V1429.1H225.9V1429.1H226.6V1429.1H227.3V1429.1H228.0V1429.1H228.7V1429.1H229.4V1429.1H230.1V1429.1H230.8V1429.1H231.5V1429.1H232.2V1429.1H232.9V1429.1H233.6V1429.1H234.3V1429.1H235.0V1429.1H235.7V1429.1H236.4V1429.1H237.1V1429.1H237.8V1429.1H238.5V1429.1H239.2V1429.1H239.9V1429.1H240.6V1429.1H241.3V1429.1H242.0V1429.1H242.7V1429.1H243.4V1429.1H244.1V1429.1H244.8V1429.1H245.5V1429.1H246.2V1429.1H246.9V1429.1H247.6V1429.1H248.3V1429.1H249.0V1429.1H249.7V1429.1H250.4V1429.1H251.1V1429.1H251.8V1429.1H252.5V1429.1H253.2V1429.1H253.9V1429.1H254.6V1429.1H255.3V1429.1H256.0V1429.1H256.7V1429.1H257.4V1429.1H258.1V1429.1H258.8V1429.1H259.5V1429.1H260.2V1429.1H260.9V1429.1H261.6V1429.1H262.3V1429.1H263.0V1429.1H263.7V1429.1H264.4V1429.1H265.1V1429.1H265.8V1429.1H266.5V1429.1H267.2V1429.1H267.9V1429.1H268.6V1429.1H269.3V1429.1H270.0V1429.1H270.7V1429.1H271.4V1429.1H272.1V1429.1H272.8V1429.1H273.5V1429.1H274.2V1429.1H274.9V1429.1H275.6V1429.1H276.3V1429.1H277.0V1429.1Z" fill="#000"/>
<path d="M153.2 1248.7V1429.1" stroke="#e8233c" stroke-width="1.4"/>
<rect x="91.5" y="1248.7" width="184.9" height="180.4" fill="none" stroke="#3c3cff" stroke-width="1.5"/>
<path d="M85.5 1248.7H91.5M85.5 1293.8H91.5M85.5 1338.9H91.5M85.5 1384H91.5M85.5 1429.1H91.5M91.5 1429.1V1435.1M100.5 1429.1V1434.1M105.7 1429.1V1434.1M109.5 1429.1V1434.1M112.3 1429.1V1434.1M114.7 1429.1V1434.1M116.7 1429.1V1434.1M118.4 1429.1V1434.1M120.0 1429.1V1434.1M121.3 1429.1V1435.1M130.3 1429.1V1434.1M135.6 1429.1V1434.1M139.3 1429.1V1434.1M142.2 1429.1V1434.1M144.5 1429.1V1434.1M146.5 1429.1V1434.1M148.3 1429.1V1434.1M149.8 1429.1V1434.1M151.1 1429.1V1435.1M160.1 1429.1V1434.1M165.4 1429.1V1434.1M169.1 1429.1V1434.1M172.0 1429.1V1434.1M174.4 1429.1V1434.1M176.3 1429.1V1434.1M178.1 1429.1V1434.1M179.6 1429.1V1434.1M181 1429.1V1435.1M189.9 1429.1V1434.1M195.2 1429.1V1434.1M198.9 1429.1V1434.1M201.8 1429.1V1434.1M204.2 1429.1V1434.1M206.2 1429.1V1434.1M207.9 1429.1V1434.1M209.4 1429.1V1434.1M210.8 1429.1V1435.1M219.8 1429.1V1434.1M225.0 1429.1V1434.1M228.7 1429.1V1434.1M231.6 1429.1V1434.1M234.0 1429.1V1434.1M236.0 1429.1V1434.1M237.7 1429.1V1434.1M239.2 1429.1V1434.1M240.6 1429.1V1435.1M249.6 1429.1V1434.1M254.8 1429.1V1434.1M258.6 1429.1V1434.1M261.5 1429.1V1434.1M263.8 1429.1V1434.1M265.8 1429.1V1434.1M267.5 1429.1V1434.1M269.1 1429.1V1434.1M270.4 1429.1V1435.1M276.4 1429.1V1435.1" stroke="#3c3cff" stroke-width="1.1"/>
<text class="A" x="75.5" y="1248.7" font-size="10" fill="#3c3cff" text-anchor="middle" dy="0.35em" transform="rotate(-90 75.5 1248.7)">800</text>
<text class="A" x="75.5" y="1293.8" font-size="10" fill="#3c3cff" text-anchor="middle" dy="0.35em" transform="rotate(-90 75.5 1293.8)">600</text>
<text class="A" x="75.5" y="1338.9" font-size="10" fill="#3c3cff" text-anchor="middle" dy="0.35em" transform="rotate(-90 75.5 1338.9)">400</text>
<text class="A" x="75.5" y="1384" font-size="10" fill="#3c3cff" text-anchor="middle" dy="0.35em" transform="rotate(-90 75.5 1384)">200</text>
<text class="A" x="75.5" y="1429.1" font-size="10" fill="#3c3cff" text-anchor="middle" dy="0.35em" transform="rotate(-90 75.5 1429.1)">0</text>
<text class="A" x="62" y="1356.9" font-size="10.6" fill="#111" text-anchor="middle" dy="0.35em" transform="rotate(-90 62 1356.9)">Count</text>
<text class="A" x="93.5" y="1447.1" font-size="10" fill="#3c3cff" text-anchor="middle"><tspan font-size="5.5">10</tspan>1</text>
<text class="A" x="123.3" y="1447.1" font-size="10" fill="#3c3cff" text-anchor="middle"><tspan font-size="5.5">10</tspan>2</text>
<text class="A" x="153.1" y="1447.1" font-size="10" fill="#3c3cff" text-anchor="middle"><tspan font-size="5.5">10</tspan>3</text>
<text class="A" x="183" y="1447.1" font-size="10" fill="#3c3cff" text-anchor="middle"><tspan font-size="5.5">10</tspan>4</text>
<text class="A" x="212.8" y="1447.1" font-size="10" fill="#3c3cff" text-anchor="middle"><tspan font-size="5.5">10</tspan>5</text>
<text class="A" x="242.6" y="1447.1" font-size="10" fill="#3c3cff" text-anchor="middle"><tspan font-size="5.5">10</tspan>6</text>
<text class="A" x="281.4" y="1447.1" font-size="10" fill="#3c3cff" text-anchor="middle"><tspan font-size="5.5">10</tspan>7.2</text>
<text class="A" x="183.9" y="1458.1" font-size="10.8" fill="#111" text-anchor="middle">FL2-H</text>
<text class="A" x="92.5" y="1260.7" font-size="13" fill="#e8233c">V2-L</text>
<text class="A" x="92.5" y="1272.2" font-size="12.6" fill="#e8233c">98.3%</text>
<text class="A" x="275.4" y="1260.7" font-size="13" fill="#e8233c" text-anchor="end">V2-R</text>
<text class="A" x="275.4" y="1272.2" font-size="12.6" fill="#e8233c" text-anchor="end">1.7%</text>
<text class="S" x="91.5" y="1235.2" font-size="36" fill="#000">a</text>
<path d="M340.8 1431.2V1430.4H341.5V1430.4H342.2V1430.4H342.9V1430.3H343.6V1430.2H344.3V1429.9H345.0V1429.5H345.7V1429.4H346.4V1429.2H347.1V1429.4H347.8V1429.0H348.5V1429.0H349.2V1429.0H349.9V1428.9H350.6V1428.6H351.3V1427.8H352.0V1427.7H352.7V1427.6H353.4V1427.4H354.1V1427.9H354.8V1427.6H355.5V1427.0H356.2V1426.7H356.9V1426.4H357.6V1426.2H358.3V1427.1H359.0V1426.2H359.7V1425.9H360.4V1425.7H361.1V1425.8H361.8V1424.7H362.5V1425.0H363.2V1422.5H363.9V1422.1H364.6V1422.3H365.3V1422.5H366.0V1420.1H366.7V1420.6H367.4V1419.0H368.1V1418.5H368.8V1419.2H369.5V1419.0H370.2V1417.7H370.9V1417.9H371.6V1418.5H372.3V1417.4H373.0V1414.5H373.7V1417.6H374.4V1417.2H375.1V1413.7H375.8V1415.0H376.5V1413.0H377.2V1412.8H377.9V1412.3H378.6V1406.8H379.3V1410.9H380.0V1408.2H380.7V1408.6H381.4V1403.9H382.1V1405.7H382.8V1403.8H383.5V1399.0H384.2V1401.7H384.9V1397.6H385.6V1392.2H386.3V1399.3H387.0V1398.2H387.7V1394.7H388.4V1386.2H389.1V1386.4H389.8V1389.9H390.5V1386.9H391.2V1386.6H391.9V1376.7H392.6V1379.0H393.3V1360.7H394.0V1350.3H394.7V1342.5H395.4V1341.8H396.1V1329.5H396.8V1349.7H397.5V1335.3H398.2V1305.9H398.9V1308.0H399.6V1333.6H400.3V1331.9H401.0V1371.1H401.7V1387.8H402.4V1397.8H403.1V1402.3H403.8V1403.6H404.5V1409.6H405.2V1410.1H405.9V1407.7H406.6V1413.0H407.3V1416.0H408.0V1417.0H408.7V1417.6H409.4V1416.1H410.1V1419.2H410.8V1420.8H411.5V1422.6H412.2V1421.0H412.9V1423.1H413.6V1424.1H414.3V1425.0H415.0V1425.5H415.7V1425.7H416.4V1425.4H417.1V1426.8H417.8V1427.4H418.5V1427.4H419.2V1428.2H419.9V1428.1H420.6V1429.3H421.3V1429.6H422.0V1430.1H422.7V1430.6H423.4V1430.9H424.1V1431.2H424.8V1431.2H425.5V1431.2H426.2V1431.2H426.9V1431.2H427.6V1431.2H428.3V1431.2H429.0V1431.2H429.7V1431.2H430.4V1431.2H431.1V1431.2H431.8V1431.2H432.5V1431.2H433.2V1431.2H433.9V1431.2H434.6V1431.2H435.3V1431.2H436.0V1431.2H436.7V1431.2H437.4V1431.2H438.1V1431.2H438.8V1431.2H439.5V1431.2H440.2V1431.2H440.9V1431.2H441.6V1431.2H442.3V1431.2H443.0V1431.2H443.7V1431.2H444.4V1431.2H445.1V1431.2H445.8V1431.2H446.5V1431.2H447.2V1431.2H447.9V1431.2H448.6V1431.2H449.3V1431.2H450.0V1431.2H450.7V1431.2H451.4V1431.2H452.1V1431.2H452.8V1431.2H453.5V1431.2H454.2V1431.2H454.9V1431.2H455.6V1431.2H456.3V1431.2H457.0V1431.2H457.7V1431.2H458.4V1431.2H459.1V1431.2H459.8V1431.2H460.5V1431.2H461.2V1431.2H461.9V1431.2H462.6V1431.2H463.3V1431.2H464.0V1431.2H464.7V1431.2H465.4V1431.2H466.1V1431.2H466.8V1431.2H467.5V1431.2H468.2V1431.2H468.9V1431.2H469.6V1431.2H470.3V1431.2H471.0V1431.2H471.7V1431.2H472.4V1431.2H473.1V1431.2H473.8V1431.2H474.5V1431.2H475.2V1431.2H475.9V1431.2H476.6V1431.2H477.3V1431.2H478.0V1431.2H478.7V1431.2H479.4V1431.2H480.1V1431.2H480.8V1431.2H481.5V1431.2H482.2V1431.2H482.9V1431.2H483.6V1431.2H484.3V1431.2H485.0V1431.2H485.7V1431.2H486.4V1431.2H487.1V1431.2H487.8V1431.2H488.5V1431.2H489.2V1431.2H489.9V1431.2H490.6V1431.2H491.3V1431.2H492.0V1431.2H492.7V1431.2H493.4V1431.2H494.1V1431.2H494.8V1431.2H495.5V1431.2H496.2V1431.2H496.9V1431.2H497.6V1431.2H498.3V1431.2H499.0V1431.2H499.7V1431.2H500.4V1431.2H501.1V1431.2H501.8V1431.2H502.5V1431.2H503.2V1431.2H503.9V1431.2H504.6V1431.2H505.3V1431.2H506.0V1431.2H506.7V1431.2H507.4V1431.2H508.1V1431.2H508.8V1431.2H509.5V1431.2H510.2V1431.2H510.9V1431.2H511.6V1431.2H512.3V1431.2H513.0V1431.2H513.7V1431.2H514.4V1431.2H515.1V1431.2H515.8V1431.2H516.5V1431.2H517.2V1431.2H517.9V1431.2H518.6V1431.2H519.3V1431.2H520.0V1431.2H520.7V1431.2H521.4V1431.2H522.1V1431.2H522.8V1431.2H523.5V1431.2H524.2V1431.2H524.9V1431.2H525.6V1431.2H526.3V1431.2Z" fill="#000"/>
<path d="M402.8 1250.2V1431.2" stroke="#e8233c" stroke-width="1.4"/>
<rect x="340.8" y="1250.2" width="184.9" height="181" fill="none" stroke="#3c3cff" stroke-width="1.5"/>
<path d="M334.8 1250.2H340.8M334.8 1295.5H340.8M334.8 1340.7H340.8M334.8 1386H340.8M334.8 1431.2H340.8M340.8 1431.2V1437.2M349.8 1431.2V1436.2M355.0 1431.2V1436.2M358.8 1431.2V1436.2M361.6 1431.2V1436.2M364.0 1431.2V1436.2M366.0 1431.2V1436.2M367.7 1431.2V1436.2M369.3 1431.2V1436.2M370.6 1431.2V1437.2M379.6 1431.2V1436.2M384.9 1431.2V1436.2M388.6 1431.2V1436.2M391.5 1431.2V1436.2M393.8 1431.2V1436.2M395.8 1431.2V1436.2M397.6 1431.2V1436.2M399.1 1431.2V1436.2M400.4 1431.2V1437.2M409.4 1431.2V1436.2M414.7 1431.2V1436.2M418.4 1431.2V1436.2M421.3 1431.2V1436.2M423.7 1431.2V1436.2M425.6 1431.2V1436.2M427.4 1431.2V1436.2M428.9 1431.2V1436.2M430.3 1431.2V1437.2M439.2 1431.2V1436.2M444.5 1431.2V1436.2M448.2 1431.2V1436.2M451.1 1431.2V1436.2M453.5 1431.2V1436.2M455.5 1431.2V1436.2M457.2 1431.2V1436.2M458.7 1431.2V1436.2M460.1 1431.2V1437.2M469.1 1431.2V1436.2M474.3 1431.2V1436.2M478.0 1431.2V1436.2M480.9 1431.2V1436.2M483.3 1431.2V1436.2M485.3 1431.2V1436.2M487.0 1431.2V1436.2M488.5 1431.2V1436.2M489.9 1431.2V1437.2M498.9 1431.2V1436.2M504.1 1431.2V1436.2M507.9 1431.2V1436.2M510.8 1431.2V1436.2M513.1 1431.2V1436.2M515.1 1431.2V1436.2M516.8 1431.2V1436.2M518.4 1431.2V1436.2M519.7 1431.2V1437.2M525.7 1431.2V1437.2" stroke="#3c3cff" stroke-width="1.1"/>
<text class="A" x="324.8" y="1250.2" font-size="10" fill="#3c3cff" text-anchor="middle" dy="0.35em" transform="rotate(-90 324.8 1250.2)">800</text>
<text class="A" x="324.8" y="1295.5" font-size="10" fill="#3c3cff" text-anchor="middle" dy="0.35em" transform="rotate(-90 324.8 1295.5)">600</text>
<text class="A" x="324.8" y="1340.7" font-size="10" fill="#3c3cff" text-anchor="middle" dy="0.35em" transform="rotate(-90 324.8 1340.7)">400</text>
<text class="A" x="324.8" y="1386" font-size="10" fill="#3c3cff" text-anchor="middle" dy="0.35em" transform="rotate(-90 324.8 1386)">200</text>
<text class="A" x="324.8" y="1431.2" font-size="10" fill="#3c3cff" text-anchor="middle" dy="0.35em" transform="rotate(-90 324.8 1431.2)">0</text>
<text class="A" x="311.3" y="1358.8" font-size="10.6" fill="#111" text-anchor="middle" dy="0.35em" transform="rotate(-90 311.3 1358.8)">Count</text>
<text class="A" x="342.8" y="1449.2" font-size="10" fill="#3c3cff" text-anchor="middle"><tspan font-size="5.5">10</tspan>1</text>
<text class="A" x="372.6" y="1449.2" font-size="10" fill="#3c3cff" text-anchor="middle"><tspan font-size="5.5">10</tspan>2</text>
<text class="A" x="402.4" y="1449.2" font-size="10" fill="#3c3cff" text-anchor="middle"><tspan font-size="5.5">10</tspan>3</text>
<text class="A" x="432.3" y="1449.2" font-size="10" fill="#3c3cff" text-anchor="middle"><tspan font-size="5.5">10</tspan>4</text>
<text class="A" x="462.1" y="1449.2" font-size="10" fill="#3c3cff" text-anchor="middle"><tspan font-size="5.5">10</tspan>5</text>
<text class="A" x="491.9" y="1449.2" font-size="10" fill="#3c3cff" text-anchor="middle"><tspan font-size="5.5">10</tspan>6</text>
<text class="A" x="530.7" y="1449.2" font-size="10" fill="#3c3cff" text-anchor="middle"><tspan font-size="5.5">10</tspan>7.2</text>
<text class="A" x="433.2" y="1460.2" font-size="10.8" fill="#111" text-anchor="middle">FL2-H</text>
<text class="A" x="341.8" y="1262.2" font-size="13" fill="#e8233c">V2-L</text>
<text class="A" x="341.8" y="1273.7" font-size="12.6" fill="#e8233c">92.5%</text>
<text class="A" x="524.7" y="1262.2" font-size="13" fill="#e8233c" text-anchor="end">V2-R</text>
<text class="A" x="524.7" y="1273.7" font-size="12.6" fill="#e8233c" text-anchor="end">7.5%</text>
<text class="S" x="340.8" y="1236.7" font-size="36" fill="#000">b</text>
<path d="M600.8 1431.2V1429.0H601.5V1428.9H602.2V1428.7H602.9V1428.5H603.6V1428.5H604.3V1428.2H605.0V1428.8H605.7V1428.3H606.4V1427.7H607.1V1427.9H607.8V1427.5H608.5V1428.2H609.2V1427.6H609.9V1427.8H610.6V1427.3H611.3V1427.1H612.0V1427.7H612.7V1427.3H613.4V1427.1H614.1V1426.1H614.8V1426.2H615.5V1426.9H616.2V1425.7H616.9V1426.5H617.6V1425.4H618.3V1426.0H619.0V1425.9H619.7V1423.9H620.4V1425.0H621.1V1424.7H621.8V1422.6H622.5V1422.6H623.2V1423.7H623.9V1421.7H624.6V1422.4H625.3V1421.7H626.0V1422.8H626.7V1420.3H627.4V1420.7H628.1V1419.6H628.8V1419.4H629.5V1420.8H630.2V1420.0H630.9V1420.1H631.6V1419.7H632.3V1419.5H633.0V1417.9H633.7V1415.9H634.4V1418.2H635.1V1414.3H635.8V1415.4H636.5V1414.9H637.2V1411.6H637.9V1412.7H638.6V1412.8H639.3V1411.0H640.0V1408.6H640.7V1412.1H641.4V1404.9H642.1V1410.9H642.8V1404.6H643.5V1402.9H644.2V1408.7H644.9V1401.3H645.6V1403.2H646.3V1399.4H647.0V1403.4H647.7V1401.5H648.4V1398.4H649.1V1387.7H649.8V1395.0H650.5V1386.2H651.2V1382.4H651.9V1380.9H652.6V1387.9H653.3V1386.6H654.0V1382.9H654.7V1372.8H655.4V1377.1H656.1V1353.6H656.8V1339.7H657.5V1326.6H658.2V1342.6H658.9V1302.9H659.6V1341.5H660.3V1346.2H661.0V1350.9H661.7V1354.6H662.4V1375.3H663.1V1373.7H663.8V1387.8H664.5V1397.0H665.2V1399.5H665.9V1403.4H666.6V1406.7H667.3V1408.5H668.0V1407.0H668.7V1406.3H669.4V1413.1H670.1V1415.0H670.8V1411.0H671.5V1414.9H672.2V1416.8H672.9V1418.8H673.6V1418.3H674.3V1418.5H675.0V1420.7H675.7V1421.7H676.4V1423.6H677.1V1422.3H677.8V1425.2H678.5V1425.2H679.2V1425.6H679.9V1427.1H680.6V1426.4H681.3V1426.4H682.0V1427.1H682.7V1427.2H683.4V1428.2H684.1V1428.0H684.8V1428.5H685.5V1428.2H686.2V1428.9H686.9V1429.0H687.6V1428.9H688.3V1429.2H689.0V1429.4H689.7V1430.1H690.4V1430.8H691.1V1431.2H691.8V1431.2H692.5V1431.2H693.2V1431.2H693.9V1431.2H694.6V1431.2H695.3V1431.2H696.0V1431.2H696.7V1431.2H697.4V1431.2H698.1V1431.2H698.8V1431.2H699.5V1431.2H700.2V1431.2H700.9V1431.2H701.6V1431.2H702.3V1431.2H703.0V1431.2H703.7V1431.2H704.4V1431.2H705.1V1431.2H705.8V1431.2H706.5V1431.2H707.2V1431.2H707.9V1431.2H708.6V1431.2H709.3V1431.2H710.0V1431.2H710.7V1431.2H711.4V1431.2H712.1V1431.2H712.8V1431.2H713.5V1431.2H714.2V1431.2H714.9V1431.2H715.6V1431.2H716.3V1431.2H717.0V1431.2H717.7V1431.2H718.4V1431.2H719.1V1431.2H719.8V1431.2H720.5V1431.2H721.2V1431.2H721.9V1431.2H722.6V1431.2H723.3V1431.2H724.0V1431.2H724.7V1431.2H725.4V1431.2H726.1V1431.2H726.8V1431.2H727.5V1431.2H728.2V1431.2H728.9V1431.2H729.6V1431.2H730.3V1431.2H731.0V1431.2H731.7V1431.2H732.4V1431.2H733.1V1431.2H733.8V1431.2H734.5V1431.2H735.2V1431.2H735.9V1431.2H736.6V1431.2H737.3V1431.2H738.0V1431.2H738.7V1431.2H739.4V1431.2H740.1V1431.2H740.8V1431.2H741.5V1431.2H742.2V1431.2H742.9V1431.2H743.6V1431.2H744.3V1431.2H745.0V1431.2H745.7V1431.2H746.4V1431.2H747.1V1431.2H747.8V1431.2H748.5V1431.2H749.2V1431.2H749.9V1431.2H750.6V1431.2H751.3V1431.2H752.0V1431.2H752.7V1431.2H753.4V1431.2H754.1V1431.2H754.8V1431.2H755.5V1431.2H756.2V1431.2H756.9V1431.2H757.6V1431.2H758.3V1431.2H759.0V1431.2H759.7V1431.2H760.4V1431.2H761.1V1431.2H761.8V1431.2H762.5V1431.2H763.2V1431.2H763.9V1431.2H764.6V1431.2H765.3V1431.2H766.0V1431.2H766.7V1431.2H767.4V1431.2H768.1V1431.2H768.8V1431.2H769.5V1431.2H770.2V1431.2H770.9V1431.2H771.6V1431.2H772.3V1431.2H773.0V1431.2H773.7V1431.2H774.4V1431.2H775.1V1431.2H775.8V1431.2H776.5V1431.2H777.2V1431.2H777.9V1431.2H778.6V1431.2H779.3V1431.2H780.0V1431.2H780.7V1431.2H781.4V1431.2H782.1V1431.2H782.8V1431.2H783.5V1431.2H784.2V1431.2H784.9V1431.2H785.6V1431.2H786.3V1431.2Z" fill="#000"/>
<path d="M663.3 1250.4V1431.2" stroke="#e8233c" stroke-width="1.4"/>
<rect x="600.8" y="1250.4" width="185" height="180.8" fill="none" stroke="#3c3cff" stroke-width="1.5"/>
<path d="M594.8 1250.4H600.8M594.8 1295.6H600.8M594.8 1340.8H600.8M594.8 1386H600.8M594.8 1431.2H600.8M600.8 1431.2V1437.2M609.8 1431.2V1436.2M615.0 1431.2V1436.2M618.8 1431.2V1436.2M621.7 1431.2V1436.2M624.0 1431.2V1436.2M626.0 1431.2V1436.2M627.7 1431.2V1436.2M629.3 1431.2V1436.2M630.6 1431.2V1437.2M639.6 1431.2V1436.2M644.9 1431.2V1436.2M648.6 1431.2V1436.2M651.5 1431.2V1436.2M653.9 1431.2V1436.2M655.9 1431.2V1436.2M657.6 1431.2V1436.2M659.1 1431.2V1436.2M660.5 1431.2V1437.2M669.5 1431.2V1436.2M674.7 1431.2V1436.2M678.4 1431.2V1436.2M681.3 1431.2V1436.2M683.7 1431.2V1436.2M685.7 1431.2V1436.2M687.4 1431.2V1436.2M689.0 1431.2V1436.2M690.3 1431.2V1437.2M699.3 1431.2V1436.2M704.6 1431.2V1436.2M708.3 1431.2V1436.2M711.2 1431.2V1436.2M713.5 1431.2V1436.2M715.5 1431.2V1436.2M717.3 1431.2V1436.2M718.8 1431.2V1436.2M720.2 1431.2V1437.2M729.1 1431.2V1436.2M734.4 1431.2V1436.2M738.1 1431.2V1436.2M741.0 1431.2V1436.2M743.4 1431.2V1436.2M745.4 1431.2V1436.2M747.1 1431.2V1436.2M748.6 1431.2V1436.2M750 1431.2V1437.2M759.0 1431.2V1436.2M764.2 1431.2V1436.2M768.0 1431.2V1436.2M770.8 1431.2V1436.2M773.2 1431.2V1436.2M775.2 1431.2V1436.2M776.9 1431.2V1436.2M778.5 1431.2V1436.2M779.8 1431.2V1437.2M785.8 1431.2V1437.2" stroke="#3c3cff" stroke-width="1.1"/>
<text class="A" x="584.8" y="1250.4" font-size="10" fill="#3c3cff" text-anchor="middle" dy="0.35em" transform="rotate(-90 584.8 1250.4)">800</text>
<text class="A" x="584.8" y="1295.6" font-size="10" fill="#3c3cff" text-anchor="middle" dy="0.35em" transform="rotate(-90 584.8 1295.6)">600</text>
<text class="A" x="584.8" y="1340.8" font-size="10" fill="#3c3cff" text-anchor="middle" dy="0.35em" transform="rotate(-90 584.8 1340.8)">400</text>
<text class="A" x="584.8" y="1386" font-size="10" fill="#3c3cff" text-anchor="middle" dy="0.35em" transform="rotate(-90 584.8 1386)">200</text>
<text class="A" x="584.8" y="1431.2" font-size="10" fill="#3c3cff" text-anchor="middle" dy="0.35em" transform="rotate(-90 584.8 1431.2)">0</text>
<text class="A" x="571.3" y="1358.9" font-size="10.6" fill="#111" text-anchor="middle" dy="0.35em" transform="rotate(-90 571.3 1358.9)">Count</text>
<text class="A" x="602.8" y="1449.2" font-size="10" fill="#3c3cff" text-anchor="middle"><tspan font-size="5.5">10</tspan>1</text>
<text class="A" x="632.6" y="1449.2" font-size="10" fill="#3c3cff" text-anchor="middle"><tspan font-size="5.5">10</tspan>2</text>
<text class="A" x="662.5" y="1449.2" font-size="10" fill="#3c3cff" text-anchor="middle"><tspan font-size="5.5">10</tspan>3</text>
<text class="A" x="692.3" y="1449.2" font-size="10" fill="#3c3cff" text-anchor="middle"><tspan font-size="5.5">10</tspan>4</text>
<text class="A" x="722.2" y="1449.2" font-size="10" fill="#3c3cff" text-anchor="middle"><tspan font-size="5.5">10</tspan>5</text>
<text class="A" x="752" y="1449.2" font-size="10" fill="#3c3cff" text-anchor="middle"><tspan font-size="5.5">10</tspan>6</text>
<text class="A" x="790.8" y="1449.2" font-size="10" fill="#3c3cff" text-anchor="middle"><tspan font-size="5.5">10</tspan>7.2</text>
<text class="A" x="693.3" y="1460.2" font-size="10.8" fill="#111" text-anchor="middle">FL2-H</text>
<text class="A" x="601.8" y="1262.4" font-size="13" fill="#e8233c">V2-L</text>
<text class="A" x="601.8" y="1273.9" font-size="12.6" fill="#e8233c">86.3%</text>
<text class="A" x="784.8" y="1262.4" font-size="13" fill="#e8233c" text-anchor="end">V2-R</text>
<text class="A" x="784.8" y="1273.9" font-size="12.6" fill="#e8233c" text-anchor="end">13.7%</text>
<text class="S" x="600.8" y="1236.9" font-size="36" fill="#000">c</text>
<path d="M90.4 1677.6V1676.1H91.1V1676.1H91.8V1676.2H92.5V1676.3H93.2V1676.3H93.9V1676.0H94.6V1676.0H95.3V1675.8H96.0V1675.9H96.7V1675.7H97.4V1675.9H98.1V1675.5H98.8V1675.5H99.5V1675.6H100.2V1675.5H100.9V1675.3H101.6V1675.6H102.3V1675.3H103.0V1675.1H103.7V1675.4H104.4V1674.9H105.1V1675.0H105.8V1674.8H106.5V1675.1H107.2V1675.3H107.9V1674.6H108.6V1674.5H109.3V1674.6H110.0V1674.5H110.7V1674.0H111.4V1673.0H112.1V1673.1H112.8V1671.6H113.5V1671.7H114.2V1672.0H114.9V1670.7H115.6V1670.8H116.3V1669.1H117.0V1668.7H117.7V1669.2H118.4V1668.4H119.1V1667.8H119.8V1667.0H120.5V1665.9H121.2V1668.5H121.9V1667.0H122.6V1665.8H123.3V1666.4H124.0V1664.4H124.7V1665.6H125.4V1661.2H126.1V1661.9H126.8V1663.0H127.5V1659.3H128.2V1660.3H128.9V1660.1H129.6V1657.5H130.3V1658.8H131.0V1657.5H131.7V1652.0H132.4V1652.2H133.1V1656.5H133.8V1649.1H134.5V1653.8H135.2V1649.4H135.9V1642.1H136.6V1643.1H137.3V1644.7H138.0V1642.2H138.7V1640.3H139.4V1641.9H140.1V1629.0H140.8V1639.5H141.5V1631.5H142.2V1623.6H142.9V1626.1H143.6V1613.0H144.3V1622.6H145.0V1601.7H145.7V1596.3H146.4V1594.5H147.1V1582.0H147.8V1585.1H148.5V1564.3H149.2V1555.9H149.9V1573.1H150.6V1584.6H151.3V1589.5H152.0V1607.9H152.7V1624.8H153.4V1624.5H154.1V1638.0H154.8V1640.0H155.5V1641.9H156.2V1651.1H156.9V1654.3H157.6V1655.3H158.3V1653.9H159.0V1657.6H159.7V1660.2H160.4V1661.2H161.1V1660.6H161.8V1664.7H162.5V1665.0H163.2V1664.3H163.9V1666.3H164.6V1668.4H165.3V1668.8H166.0V1669.8H166.7V1671.4H167.4V1671.3H168.1V1671.8H168.8V1671.3H169.5V1672.5H170.2V1672.3H170.9V1672.2H171.6V1672.7H172.3V1673.8H173.0V1673.9H173.7V1674.6H174.4V1674.9H175.1V1675.2H175.8V1675.4H176.5V1675.7H177.2V1676.4H177.9V1676.8H178.6V1677.1H179.3V1677.5H180.0V1677.6H180.7V1677.6H181.4V1677.6H182.1V1677.6H182.8V1677.6H183.5V1677.6H184.2V1677.6H184.9V1677.6H185.6V1677.6H186.3V1677.6H187.0V1677.6H187.7V1677.6H188.4V1677.6H189.1V1677.6H189.8V1677.6H190.5V1677.6H191.2V1677.6H191.9V1677.6H192.6V1677.6H193.3V1677.6H194.0V1677.6H194.7V1677.6H195.4V1677.6H196.1V1677.6H196.8V1677.6H197.5V1677.6H198.2V1677.6H198.9V1677.6H199.6V1677.6H200.3V1677.6H201.0V1677.6H201.7V1677.6H202.4V1677.6H203.1V1677.6H203.8V1677.6H204.5V1677.6H205.2V1677.6H205.9V1677.6H206.6V1677.6H207.3V1677.6H208.0V1677.6H208.7V1677.6H209.4V1677.6H210.1V1677.6H210.8V1677.6H211.5V1677.6H212.2V1677.6H212.9V1677.6H213.6V1677.6H214.3V1677.6H215.0V1677.6H215.7V1677.6H216.4V1677.6H217.1V1677.6H217.8V1677.6H218.5V1677.6H219.2V1677.6H219.9V1677.6H220.6V1677.6H221.3V1677.6H222.0V1677.6H222.7V1677.6H223.4V1677.6H224.1V1677.6H224.8V1677.6H225.5V1677.6H226.2V1677.6H226.9V1677.6H227.6V1677.6H228.3V1677.6H229.0V1677.6H229.7V1677.6H230.4V1677.6H231.1V1677.6H231.8V1677.6H232.5V1677.6H233.2V1677.6H233.9V1677.6H234.6V1677.6H235.3V1677.6H236.0V1677.6H236.7V1677.6H237.4V1677.6H238.1V1677.6H238.8V1677.6H239.5V1677.6H240.2V1677.6H240.9V1677.6H241.6V1677.6H242.3V1677.6H243.0V1677.6H243.7V1677.6H244.4V1677.6H245.1V1677.6H245.8V1677.6H246.5V1677.6H247.2V1677.6H247.9V1677.6H248.6V1677.6H249.3V1677.6H250.0V1677.6H250.7V1677.6H251.4V1677.6H252.1V1677.6H252.8V1677.6H253.5V1677.6H254.2V1677.6H254.9V1677.6H255.6V1677.6H256.3V1677.6H257.0V1677.6H257.7V1677.6H258.4V1677.6H259.1V1677.6H259.8V1677.6H260.5V1677.6H261.2V1677.6H261.9V1677.6H262.6V1677.6H263.3V1677.6H264.0V1677.6H264.7V1677.6H265.4V1677.6H266.1V1677.6H266.8V1677.6H267.5V1677.6H268.2V1677.6H268.9V1677.6H269.6V1677.6H270.3V1677.6H271.0V1677.6H271.7V1677.6H272.4V1677.6H273.1V1677.6H273.8V1677.6H274.5V1677.6H275.2V1677.6Z" fill="#000"/>
<path d="M152.2 1496.8V1677.6" stroke="#e8233c" stroke-width="1.4"/>
<rect x="90.4" y="1496.8" width="184.4" height="180.8" fill="none" stroke="#3c3cff" stroke-width="1.5"/>
<path d="M84.4 1496.8H90.4M84.4 1542H90.4M84.4 1587.2H90.4M84.4 1632.4H90.4M84.4 1677.6H90.4M90.4 1677.6V1683.6M99.4 1677.6V1682.6M104.6 1677.6V1682.6M108.3 1677.6V1682.6M111.2 1677.6V1682.6M113.5 1677.6V1682.6M115.5 1677.6V1682.6M117.3 1677.6V1682.6M118.8 1677.6V1682.6M120.1 1677.6V1683.6M129.1 1677.6V1682.6M134.3 1677.6V1682.6M138.0 1677.6V1682.6M140.9 1677.6V1682.6M143.3 1677.6V1682.6M145.3 1677.6V1682.6M147.0 1677.6V1682.6M148.5 1677.6V1682.6M149.9 1677.6V1683.6M158.8 1677.6V1682.6M164.1 1677.6V1682.6M167.8 1677.6V1682.6M170.7 1677.6V1682.6M173.0 1677.6V1682.6M175.0 1677.6V1682.6M176.7 1677.6V1682.6M178.3 1677.6V1682.6M179.6 1677.6V1683.6M188.6 1677.6V1682.6M193.8 1677.6V1682.6M197.5 1677.6V1682.6M200.4 1677.6V1682.6M202.8 1677.6V1682.6M204.8 1677.6V1682.6M206.5 1677.6V1682.6M208.0 1677.6V1682.6M209.4 1677.6V1683.6M218.3 1677.6V1682.6M223.6 1677.6V1682.6M227.3 1677.6V1682.6M230.2 1677.6V1682.6M232.5 1677.6V1682.6M234.5 1677.6V1682.6M236.2 1677.6V1682.6M237.7 1677.6V1682.6M239.1 1677.6V1683.6M248.1 1677.6V1682.6M253.3 1677.6V1682.6M257.0 1677.6V1682.6M259.9 1677.6V1682.6M262.3 1677.6V1682.6M264.2 1677.6V1682.6M266.0 1677.6V1682.6M267.5 1677.6V1682.6M268.9 1677.6V1683.6M274.8 1677.6V1683.6" stroke="#3c3cff" stroke-width="1.1"/>
<text class="A" x="74.4" y="1496.8" font-size="10" fill="#3c3cff" text-anchor="middle" dy="0.35em" transform="rotate(-90 74.4 1496.8)">800</text>
<text class="A" x="74.4" y="1542" font-size="10" fill="#3c3cff" text-anchor="middle" dy="0.35em" transform="rotate(-90 74.4 1542)">600</text>
<text class="A" x="74.4" y="1587.2" font-size="10" fill="#3c3cff" text-anchor="middle" dy="0.35em" transform="rotate(-90 74.4 1587.2)">400</text>
<text class="A" x="74.4" y="1632.4" font-size="10" fill="#3c3cff" text-anchor="middle" dy="0.35em" transform="rotate(-90 74.4 1632.4)">200</text>
<text class="A" x="74.4" y="1677.6" font-size="10" fill="#3c3cff" text-anchor="middle" dy="0.35em" transform="rotate(-90 74.4 1677.6)">0</text>
<text class="A" x="60.9" y="1605.3" font-size="10.6" fill="#111" text-anchor="middle" dy="0.35em" transform="rotate(-90 60.9 1605.3)">Count</text>
<text class="A" x="92.4" y="1695.6" font-size="10" fill="#3c3cff" text-anchor="middle"><tspan font-size="5.5">10</tspan>1</text>
<text class="A" x="122.1" y="1695.6" font-size="10" fill="#3c3cff" text-anchor="middle"><tspan font-size="5.5">10</tspan>2</text>
<text class="A" x="151.9" y="1695.6" font-size="10" fill="#3c3cff" text-anchor="middle"><tspan font-size="5.5">10</tspan>3</text>
<text class="A" x="181.6" y="1695.6" font-size="10" fill="#3c3cff" text-anchor="middle"><tspan font-size="5.5">10</tspan>4</text>
<text class="A" x="211.4" y="1695.6" font-size="10" fill="#3c3cff" text-anchor="middle"><tspan font-size="5.5">10</tspan>5</text>
<text class="A" x="241.1" y="1695.6" font-size="10" fill="#3c3cff" text-anchor="middle"><tspan font-size="5.5">10</tspan>6</text>
<text class="A" x="279.8" y="1695.6" font-size="10" fill="#3c3cff" text-anchor="middle"><tspan font-size="5.5">10</tspan>7.2</text>
<text class="A" x="182.6" y="1706.6" font-size="10.8" fill="#111" text-anchor="middle">FL2-H</text>
<text class="A" x="91.4" y="1508.8" font-size="13" fill="#e8233c">V2-L</text>
<text class="A" x="91.4" y="1520.3" font-size="12.6" fill="#e8233c">84.8%</text>
<text class="A" x="273.8" y="1508.8" font-size="13" fill="#e8233c" text-anchor="end">V2-R</text>
<text class="A" x="273.8" y="1520.3" font-size="12.6" fill="#e8233c" text-anchor="end">15.2%</text>
<text class="S" x="90.4" y="1483.3" font-size="36" fill="#000">d</text>
<path d="M343.4 1677.6V1676.3H344.1V1676.4H344.8V1676.2H345.5V1676.4H346.2V1676.2H346.9V1676.3H347.6V1676.4H348.3V1676.1H349.0V1676.3H349.7V1676.0H350.4V1676.1H351.1V1676.1H351.8V1675.8H352.5V1675.6H353.2V1675.9H353.9V1675.8H354.6V1675.5H355.3V1675.2H356.0V1675.4H356.7V1675.5H357.4V1675.0H358.1V1675.6H358.8V1675.0H359.5V1675.3H360.2V1675.4H360.9V1675.3H361.6V1675.1H362.3V1674.7H363.0V1675.1H363.7V1674.7H364.4V1674.2H365.1V1673.9H365.8V1673.1H366.5V1673.3H367.2V1672.7H367.9V1671.9H368.6V1670.4H369.3V1670.4H370.0V1670.1H370.7V1668.8H371.4V1668.5H372.1V1668.4H372.8V1666.3H373.5V1665.9H374.2V1666.9H374.9V1665.1H375.6V1664.7H376.3V1662.7H377.0V1662.7H377.7V1664.0H378.4V1660.3H379.1V1663.8H379.8V1661.8H380.5V1659.4H381.2V1662.1H381.9V1659.7H382.6V1661.7H383.3V1657.5H384.0V1656.3H384.7V1656.9H385.4V1654.3H386.1V1655.1H386.8V1648.7H387.5V1646.1H388.2V1642.8H388.9V1642.4H389.6V1637.1H390.3V1634.7H391.0V1639.2H391.7V1635.9H392.4V1642.4H393.1V1633.2H393.8V1632.9H394.5V1626.4H395.2V1626.0H395.9V1631.4H396.6V1627.5H397.3V1620.3H398.0V1629.0H398.7V1617.6H399.4V1617.0H400.1V1612.1H400.8V1607.6H401.5V1583.0H402.2V1597.0H402.9V1590.3H403.6V1582.6H404.3V1563.9H405.0V1594.5H405.7V1597.7H406.4V1596.1H407.1V1588.8H407.8V1591.3H408.5V1597.2H409.2V1616.9H409.9V1621.1H410.6V1628.2H411.3V1626.7H412.0V1632.6H412.7V1647.8H413.4V1651.6H414.1V1654.0H414.8V1656.9H415.5V1658.3H416.2V1661.0H416.9V1665.6H417.6V1668.8H418.3V1669.1H419.0V1670.9H419.7V1672.2H420.4V1673.5H421.1V1675.6H421.8V1677.1H422.5V1677.6H423.2V1677.6H423.9V1677.6H424.6V1677.6H425.3V1677.6H426.0V1677.6H426.7V1677.6H427.4V1677.6H428.1V1677.6H428.8V1677.6H429.5V1677.6H430.2V1677.6H430.9V1677.6H431.6V1677.6H432.3V1677.6H433.0V1677.6H433.7V1677.6H434.4V1677.6H435.1V1677.6H435.8V1677.6H436.5V1677.6H437.2V1677.6H437.9V1677.6H438.6V1677.6H439.3V1677.6H440.0V1677.6H440.7V1677.6H441.4V1677.6H442.1V1677.6H442.8V1677.6H443.5V1677.6H444.2V1677.6H444.9V1677.6H445.6V1677.6H446.3V1677.6H447.0V1677.6H447.7V1677.6H448.4V1677.6H449.1V1677.6H449.8V1677.6H450.5V1677.6H451.2V1677.6H451.9V1677.6H452.6V1677.6H453.3V1677.6H454.0V1677.6H454.7V1677.6H455.4V1677.6H456.1V1677.6H456.8V1677.6H457.5V1677.6H458.2V1677.6H458.9V1677.6H459.6V1677.6H460.3V1677.6H461.0V1677.6H461.7V1677.6H462.4V1677.6H463.1V1677.6H463.8V1677.6H464.5V1677.6H465.2V1677.6H465.9V1677.6H466.6V1677.6H467.3V1677.6H468.0V1677.6H468.7V1677.6H469.4V1677.6H470.1V1677.6H470.8V1677.6H471.5V1677.6H472.2V1677.6H472.9V1677.6H473.6V1677.6H474.3V1677.6H475.0V1677.6H475.7V1677.6H476.4V1677.6H477.1V1677.6H477.8V1677.6H478.5V1677.6H479.2V1677.6H479.9V1677.6H480.6V1677.6H481.3V1677.6H482.0V1677.6H482.7V1677.6H483.4V1677.6H484.1V1677.6H484.8V1677.6H485.5V1677.6H486.2V1677.6H486.9V1677.6H487.6V1677.6H488.3V1677.6H489.0V1677.6H489.7V1677.6H490.4V1677.6H491.1V1677.6H491.8V1677.6H492.5V1677.6H493.2V1677.6H493.9V1677.6H494.6V1677.6H495.3V1677.6H496.0V1677.6H496.7V1677.6H497.4V1677.6H498.1V1677.6H498.8V1677.6H499.5V1677.6H500.2V1677.6H500.9V1677.6H501.6V1677.6H502.3V1677.6H503.0V1677.6H503.7V1677.6H504.4V1677.6H505.1V1677.6H505.8V1677.6H506.5V1677.6H507.2V1677.6H507.9V1677.6H508.6V1677.6H509.3V1677.6H510.0V1677.6H510.7V1677.6H511.4V1677.6H512.1V1677.6H512.8V1677.6H513.5V1677.6H514.2V1677.6H514.9V1677.6H515.6V1677.6H516.3V1677.6H517.0V1677.6H517.7V1677.6H518.4V1677.6H519.1V1677.6H519.8V1677.6H520.5V1677.6H521.2V1677.6H521.9V1677.6H522.6V1677.6H523.3V1677.6H524.0V1677.6H524.7V1677.6H525.4V1677.6H526.1V1677.6H526.8V1677.6H527.5V1677.6H528.2V1677.6H528.9V1677.6Z" fill="#000"/>
<path d="M406 1496.8V1677.6" stroke="#e8233c" stroke-width="1.4"/>
<rect x="343.4" y="1496.8" width="185" height="180.8" fill="none" stroke="#3c3cff" stroke-width="1.5"/>
<path d="M337.4 1496.8H343.4M337.4 1542H343.4M337.4 1587.2H343.4M337.4 1632.4H343.4M337.4 1677.6H343.4M343.4 1677.6V1683.6M352.4 1677.6V1682.6M357.6 1677.6V1682.6M361.4 1677.6V1682.6M364.3 1677.6V1682.6M366.6 1677.6V1682.6M368.6 1677.6V1682.6M370.3 1677.6V1682.6M371.9 1677.6V1682.6M373.2 1677.6V1683.6M382.2 1677.6V1682.6M387.5 1677.6V1682.6M391.2 1677.6V1682.6M394.1 1677.6V1682.6M396.5 1677.6V1682.6M398.5 1677.6V1682.6M400.2 1677.6V1682.6M401.7 1677.6V1682.6M403.1 1677.6V1683.6M412.1 1677.6V1682.6M417.3 1677.6V1682.6M421.0 1677.6V1682.6M423.9 1677.6V1682.6M426.3 1677.6V1682.6M428.3 1677.6V1682.6M430.0 1677.6V1682.6M431.6 1677.6V1682.6M432.9 1677.6V1683.6M441.9 1677.6V1682.6M447.2 1677.6V1682.6M450.9 1677.6V1682.6M453.8 1677.6V1682.6M456.1 1677.6V1682.6M458.1 1677.6V1682.6M459.9 1677.6V1682.6M461.4 1677.6V1682.6M462.8 1677.6V1683.6M471.7 1677.6V1682.6M477.0 1677.6V1682.6M480.7 1677.6V1682.6M483.6 1677.6V1682.6M486.0 1677.6V1682.6M488.0 1677.6V1682.6M489.7 1677.6V1682.6M491.2 1677.6V1682.6M492.6 1677.6V1683.6M501.6 1677.6V1682.6M506.8 1677.6V1682.6M510.6 1677.6V1682.6M513.4 1677.6V1682.6M515.8 1677.6V1682.6M517.8 1677.6V1682.6M519.5 1677.6V1682.6M521.1 1677.6V1682.6M522.4 1677.6V1683.6M528.4 1677.6V1683.6" stroke="#3c3cff" stroke-width="1.1"/>
<text class="A" x="327.4" y="1496.8" font-size="10" fill="#3c3cff" text-anchor="middle" dy="0.35em" transform="rotate(-90 327.4 1496.8)">800</text>
<text class="A" x="327.4" y="1542" font-size="10" fill="#3c3cff" text-anchor="middle" dy="0.35em" transform="rotate(-90 327.4 1542)">600</text>
<text class="A" x="327.4" y="1587.2" font-size="10" fill="#3c3cff" text-anchor="middle" dy="0.35em" transform="rotate(-90 327.4 1587.2)">400</text>
<text class="A" x="327.4" y="1632.4" font-size="10" fill="#3c3cff" text-anchor="middle" dy="0.35em" transform="rotate(-90 327.4 1632.4)">200</text>
<text class="A" x="327.4" y="1677.6" font-size="10" fill="#3c3cff" text-anchor="middle" dy="0.35em" transform="rotate(-90 327.4 1677.6)">0</text>
<text class="A" x="313.9" y="1605.3" font-size="10.6" fill="#111" text-anchor="middle" dy="0.35em" transform="rotate(-90 313.9 1605.3)">Count</text>
<text class="A" x="345.4" y="1695.6" font-size="10" fill="#3c3cff" text-anchor="middle"><tspan font-size="5.5">10</tspan>1</text>
<text class="A" x="375.2" y="1695.6" font-size="10" fill="#3c3cff" text-anchor="middle"><tspan font-size="5.5">10</tspan>2</text>
<text class="A" x="405.1" y="1695.6" font-size="10" fill="#3c3cff" text-anchor="middle"><tspan font-size="5.5">10</tspan>3</text>
<text class="A" x="434.9" y="1695.6" font-size="10" fill="#3c3cff" text-anchor="middle"><tspan font-size="5.5">10</tspan>4</text>
<text class="A" x="464.8" y="1695.6" font-size="10" fill="#3c3cff" text-anchor="middle"><tspan font-size="5.5">10</tspan>5</text>
<text class="A" x="494.6" y="1695.6" font-size="10" fill="#3c3cff" text-anchor="middle"><tspan font-size="5.5">10</tspan>6</text>
<text class="A" x="533.4" y="1695.6" font-size="10" fill="#3c3cff" text-anchor="middle"><tspan font-size="5.5">10</tspan>7.2</text>
<text class="A" x="435.9" y="1706.6" font-size="10.8" fill="#111" text-anchor="middle">FL2-H</text>
<text class="A" x="344.4" y="1508.8" font-size="13" fill="#e8233c">V2-L</text>
<text class="A" x="344.4" y="1520.3" font-size="12.6" fill="#e8233c">75.3%</text>
<text class="A" x="527.4" y="1508.8" font-size="13" fill="#e8233c" text-anchor="end">V2-R</text>
<text class="A" x="527.4" y="1520.3" font-size="12.6" fill="#e8233c" text-anchor="end">24.7%</text>
<text class="S" x="343.4" y="1483.3" font-size="36" fill="#000">e</text>
<path d="M600.5 1677.6V1676.4H601.2V1676.0H601.9V1676.4H602.6V1676.2H603.3V1676.4H604.0V1676.3H604.7V1676.0H605.4V1676.2H606.1V1676.0H606.8V1676.0H607.5V1675.9H608.2V1675.7H608.9V1675.8H609.6V1675.4H610.3V1675.7H611.0V1675.6H611.7V1675.6H612.4V1675.4H613.1V1675.2H613.8V1674.7H614.5V1675.0H615.2V1675.2H615.9V1675.0H616.6V1674.2H617.3V1675.0H618.0V1674.4H618.7V1674.5H619.4V1674.1H620.1V1674.4H620.8V1673.9H621.5V1674.0H622.2V1673.8H622.9V1673.4H623.6V1673.6H624.3V1674.1H625.0V1674.1H625.7V1672.9H626.4V1673.1H627.1V1673.0H627.8V1671.1H628.5V1671.2H629.2V1670.2H629.9V1669.3H630.6V1670.1H631.3V1669.3H632.0V1667.3H632.7V1668.9H633.4V1666.3H634.1V1668.0H634.8V1665.3H635.5V1664.6H636.2V1663.0H636.9V1662.8H637.6V1663.6H638.3V1663.9H639.0V1663.1H639.7V1660.0H640.4V1658.9H641.1V1660.4H641.8V1654.0H642.5V1655.4H643.2V1652.9H643.9V1655.3H644.6V1654.0H645.3V1654.9H646.0V1651.0H646.7V1650.6H647.4V1648.1H648.1V1647.3H648.8V1641.3H649.5V1639.2H650.2V1645.6H650.9V1641.8H651.6V1643.2H652.3V1635.9H653.0V1630.5H653.7V1638.3H654.4V1625.8H655.1V1628.5H655.8V1629.3H656.5V1611.2H657.2V1615.0H657.9V1614.6H658.6V1604.5H659.3V1604.8H660.0V1593.3H660.7V1585.3H661.4V1579.0H662.1V1571.8H662.8V1583.4H663.5V1591.4H664.2V1593.6H664.9V1594.9H665.6V1585.2H666.3V1592.1H667.0V1582.3H667.7V1592.8H668.4V1593.3H669.1V1594.4H669.8V1620.8H670.5V1627.5H671.2V1631.5H671.9V1634.4H672.6V1639.0H673.3V1644.7H674.0V1653.6H674.7V1652.8H675.4V1662.1H676.1V1661.2H676.8V1667.2H677.5V1668.6H678.2V1672.9H678.9V1671.9H679.6V1672.7H680.3V1672.9H681.0V1673.9H681.7V1674.8H682.4V1674.6H683.1V1675.5H683.8V1676.2H684.5V1676.4H685.2V1676.9H685.9V1677.3H686.6V1677.6H687.3V1677.6H688.0V1677.6H688.7V1677.6H689.4V1677.6H690.1V1677.6H690.8V1677.6H691.5V1677.6H692.2V1677.6H692.9V1677.6H693.6V1677.6H694.3V1677.6H695.0V1677.6H695.7V1677.6H696.4V1677.6H697.1V1677.6H697.8V1677.6H698.5V1677.6H699.2V1677.6H699.9V1677.6H700.6V1677.6H701.3V1677.6H702.0V1677.6H702.7V1677.6H703.4V1677.6H704.1V1677.6H704.8V1677.6H705.5V1677.6H706.2V1677.6H706.9V1677.6H707.6V1677.6H708.3V1677.6H709.0V1677.6H709.7V1677.6H710.4V1677.6H711.1V1677.6H711.8V1677.6H712.5V1677.6H713.2V1677.6H713.9V1677.6H714.6V1677.6H715.3V1677.6H716.0V1677.6H716.7V1677.6H717.4V1677.6H718.1V1677.6H718.8V1677.6H719.5V1677.6H720.2V1677.6H720.9V1677.6H721.6V1677.6H722.3V1677.6H723.0V1677.6H723.7V1677.6H724.4V1677.6H725.1V1677.6H725.8V1677.6H726.5V1677.6H727.2V1677.6H727.9V1677.6H728.6V1677.6H729.3V1677.6H730.0V1677.6H730.7V1677.6H731.4V1677.6H732.1V1677.6H732.8V1677.6H733.5V1677.6H734.2V1677.6H734.9V1677.6H735.6V1677.6H736.3V1677.6H737.0V1677.6H737.7V1677.6H738.4V1677.6H739.1V1677.6H739.8V1677.6H740.5V1677.6H741.2V1677.6H741.9V1677.6H742.6V1677.6H743.3V1677.6H744.0V1677.6H744.7V1677.6H745.4V1677.6H746.1V1677.6H746.8V1677.6H747.5V1677.6H748.2V1677.6H748.9V1677.6H749.6V1677.6H750.3V1677.6H751.0V1677.6H751.7V1677.6H752.4V1677.6H753.1V1677.6H753.8V1677.6H754.5V1677.6H755.2V1677.6H755.9V1677.6H756.6V1677.6H757.3V1677.6H758.0V1677.6H758.7V1677.6H759.4V1677.6H760.1V1677.6H760.8V1677.6H761.5V1677.6H762.2V1677.6H762.9V1677.6H763.6V1677.6H764.3V1677.6H765.0V1677.6H765.7V1677.6H766.4V1677.6H767.1V1677.6H767.8V1677.6H768.5V1677.6H769.2V1677.6H769.9V1677.6H770.6V1677.6H771.3V1677.6H772.0V1677.6H772.7V1677.6H773.4V1677.6H774.1V1677.6H774.8V1677.6H775.5V1677.6H776.2V1677.6H776.9V1677.6H777.6V1677.6H778.3V1677.6H779.0V1677.6H779.7V1677.6H780.4V1677.6H781.1V1677.6H781.8V1677.6H782.5V1677.6H783.2V1677.6H783.9V1677.6H784.6V1677.6H785.3V1677.6H786.0V1677.6Z" fill="#000"/>
<path d="M663.3 1496.8V1677.6" stroke="#e8233c" stroke-width="1.4"/>
<rect x="600.5" y="1496.8" width="185" height="180.8" fill="none" stroke="#3c3cff" stroke-width="1.5"/>
<path d="M594.5 1496.8H600.5M594.5 1542H600.5M594.5 1587.2H600.5M594.5 1632.4H600.5M594.5 1677.6H600.5M600.5 1677.6V1683.6M609.5 1677.6V1682.6M614.7 1677.6V1682.6M618.5 1677.6V1682.6M621.4 1677.6V1682.6M623.7 1677.6V1682.6M625.7 1677.6V1682.6M627.4 1677.6V1682.6M629.0 1677.6V1682.6M630.3 1677.6V1683.6M639.3 1677.6V1682.6M644.6 1677.6V1682.6M648.3 1677.6V1682.6M651.2 1677.6V1682.6M653.6 1677.6V1682.6M655.6 1677.6V1682.6M657.3 1677.6V1682.6M658.8 1677.6V1682.6M660.2 1677.6V1683.6M669.2 1677.6V1682.6M674.4 1677.6V1682.6M678.1 1677.6V1682.6M681.0 1677.6V1682.6M683.4 1677.6V1682.6M685.4 1677.6V1682.6M687.1 1677.6V1682.6M688.7 1677.6V1682.6M690 1677.6V1683.6M699.0 1677.6V1682.6M704.3 1677.6V1682.6M708.0 1677.6V1682.6M710.9 1677.6V1682.6M713.2 1677.6V1682.6M715.2 1677.6V1682.6M717.0 1677.6V1682.6M718.5 1677.6V1682.6M719.9 1677.6V1683.6M728.8 1677.6V1682.6M734.1 1677.6V1682.6M737.8 1677.6V1682.6M740.7 1677.6V1682.6M743.1 1677.6V1682.6M745.1 1677.6V1682.6M746.8 1677.6V1682.6M748.3 1677.6V1682.6M749.7 1677.6V1683.6M758.7 1677.6V1682.6M763.9 1677.6V1682.6M767.7 1677.6V1682.6M770.5 1677.6V1682.6M772.9 1677.6V1682.6M774.9 1677.6V1682.6M776.6 1677.6V1682.6M778.2 1677.6V1682.6M779.5 1677.6V1683.6M785.5 1677.6V1683.6" stroke="#3c3cff" stroke-width="1.1"/>
<text class="A" x="584.5" y="1496.8" font-size="10" fill="#3c3cff" text-anchor="middle" dy="0.35em" transform="rotate(-90 584.5 1496.8)">800</text>
<text class="A" x="584.5" y="1542" font-size="10" fill="#3c3cff" text-anchor="middle" dy="0.35em" transform="rotate(-90 584.5 1542)">600</text>
<text class="A" x="584.5" y="1587.2" font-size="10" fill="#3c3cff" text-anchor="middle" dy="0.35em" transform="rotate(-90 584.5 1587.2)">400</text>
<text class="A" x="584.5" y="1632.4" font-size="10" fill="#3c3cff" text-anchor="middle" dy="0.35em" transform="rotate(-90 584.5 1632.4)">200</text>
<text class="A" x="584.5" y="1677.6" font-size="10" fill="#3c3cff" text-anchor="middle" dy="0.35em" transform="rotate(-90 584.5 1677.6)">0</text>
<text class="A" x="571" y="1605.3" font-size="10.6" fill="#111" text-anchor="middle" dy="0.35em" transform="rotate(-90 571 1605.3)">Count</text>
<text class="A" x="602.5" y="1695.6" font-size="10" fill="#3c3cff" text-anchor="middle"><tspan font-size="5.5">10</tspan>1</text>
<text class="A" x="632.3" y="1695.6" font-size="10" fill="#3c3cff" text-anchor="middle"><tspan font-size="5.5">10</tspan>2</text>
<text class="A" x="662.2" y="1695.6" font-size="10" fill="#3c3cff" text-anchor="middle"><tspan font-size="5.5">10</tspan>3</text>
<text class="A" x="692" y="1695.6" font-size="10" fill="#3c3cff" text-anchor="middle"><tspan font-size="5.5">10</tspan>4</text>
<text class="A" x="721.9" y="1695.6" font-size="10" fill="#3c3cff" text-anchor="middle"><tspan font-size="5.5">10</tspan>5</text>
<text class="A" x="751.7" y="1695.6" font-size="10" fill="#3c3cff" text-anchor="middle"><tspan font-size="5.5">10</tspan>6</text>
<text class="A" x="790.5" y="1695.6" font-size="10" fill="#3c3cff" text-anchor="middle"><tspan font-size="5.5">10</tspan>7.2</text>
<text class="A" x="693" y="1706.6" font-size="10.8" fill="#111" text-anchor="middle">FL2-H</text>
<text class="A" x="601.5" y="1508.8" font-size="13" fill="#e8233c">V2-L</text>
<text class="A" x="601.5" y="1520.3" font-size="12.6" fill="#e8233c">63.8%</text>
<text class="A" x="784.5" y="1508.8" font-size="13" fill="#e8233c" text-anchor="end">V2-R</text>
<text class="A" x="784.5" y="1520.3" font-size="12.6" fill="#e8233c" text-anchor="end">36.2%</text>
<text class="S" x="600.5" y="1483.3" font-size="36" fill="#000">f</text>
</svg></body></html>
